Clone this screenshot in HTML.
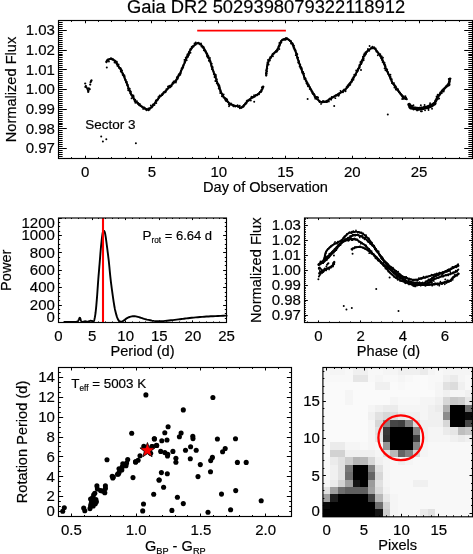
<!DOCTYPE html>
<html><head><meta charset="utf-8"><style>
html,body{margin:0;padding:0;background:#fff;}
body{width:473px;height:554px;overflow:hidden;}
svg{display:block;font-family:"Liberation Sans",sans-serif;will-change:transform;}
text{stroke:#000;stroke-width:0.18px;}
</style></head><body>
<svg width="473" height="554" viewBox="0 0 473 554" font-family="Liberation Sans, sans-serif">
<rect width="473" height="554" fill="#fff"/>
<text x="127.0" y="13.4" font-size="18.35">Gaia DR2 5029398079322118912</text>
<path d="M106.5 62.3 L107 60.6 L108.8 59.4 L111.2 58.5 L113.5 59.6 L115.8 62.3 L118.2 65.8 L120.5 69.4 L122.9 74.1 L125.2 79.3 L127 84 L128.8 88.7 L131.1 94 L134 99.3 L137.6 103.4 L141.1 106.1 L145.2 108.7 L147.9 109.5 L151.5 107.2 L155.1 102.9 L159.4 97.1 L163.8 92.8 L168.8 87.7 L173.9 82.7 L177.5 78.3 L180.4 72.5 L183.3 66 L186.2 58.8 L189 52.3 L192.9 46.6 L195.8 43.7 L197.9 42.9 L200.8 44.4 L203.7 48 L206.6 53.8 L209.5 59.5 L211.7 66 L213.8 72.5 L216 79 L218.2 84.8 L220.3 90.6 L223.2 96.4 L226.8 100.7 L230.4 104.3 L234.8 105.8 L238.1 106.3 L241.1 107.9 L244.2 105.2 L247.3 101.3 L251.1 98.3 L254.9 96 L258.8 93.7 L261.4 90.6 L263.4 86.7" fill="none" stroke="#000" stroke-width="2.0" stroke-linejoin="round" stroke-linecap="round"/>
<path d="M106.94 61.05h0M106.26 61.48h0M107.05 60.21h0M107.85 59.38h0M108.69 59.81h0M108.94 61.55h0M109.7 59.14h0M110.81 58.47h0M111.1 58.6h0M111.48 59.27h0M112.77 59.86h0M113.48 59.78h0M113.35 59.69h0M115.31 60.6h0M114.52 62.47h0M115.77 61.39h0M115.62 61.63h0M116.84 61.71h0M116.5 63.34h0M117.14 63.16h0M116.73 64.21h0M117.46 65.9h0M118.3 64.73h0M118.47 66.41h0M118.6 64.54h0M119.13 67.94h0M120.5 68.03h0M120.33 68.3h0M121.06 69.05h0M120.77 71.2h0M121.97 70.8h0M122.09 70.44h0M121.3 71.95h0M123.07 73.39h0M122.72 74.44h0M122.64 74.75h0M122.75 73.88h0M123.8 75.51h0M122.99 75.15h0M124.29 75.11h0M124.7 76.22h0M124.7 78.02h0M124.91 79.08h0M125.1 79.58h0M125.19 79.88h0M125.6 79.68h0M125.87 81.35h0M125.97 82.26h0M126.92 82.02h0M126.09 82.31h0M127.25 84.06h0M127.63 85.86h0M127.21 85.17h0M127.93 84.98h0M127.76 85.96h0M128.01 88.5h0M128.19 90.28h0M128.49 90.37h0M129.78 88.81h0M129.37 90.14h0M130.47 91.08h0M129.7 91.11h0M130.93 91.78h0M130.23 93.25h0M130.59 92.49h0M131.63 94.81h0M131.06 94.66h0M131.89 95.22h0M131.56 98.33h0M132.38 97.18h0M133.46 95.53h0M133.78 97.05h0M133.97 98.58h0M134.24 99.58h0M134.69 101.36h0M135.26 99.75h0M135.31 102.81h0M136.96 101.11h0M136.37 102.1h0M137.89 103.62h0M137.79 102.68h0M138.27 102.99h0M138.8 104.67h0M139.8 104.01h0M139.58 105.39h0M140.55 105.52h0M141.29 106.34h0M142.11 106.7h0M142.27 107.18h0M143.19 108.88h0M144.2 107.37h0M144.83 107.86h0M145 108.76h0M145.94 108.93h0M146.38 110.26h0M147.16 109.6h0M149.07 109.05h0M148.64 110.34h0M148.44 108.37h0M149.67 109.47h0M150.3 108.34h0M151.39 107.48h0M150.84 105.52h0M151.81 107.41h0M152.95 104.56h0M152.56 106.56h0M153.02 104.67h0M153.76 104.86h0M154.36 104.13h0M154.45 104.98h0M155.27 102.5h0M155.58 101.97h0M156.32 103.12h0M156.56 100.45h0M155.81 100.4h0M157.45 99.69h0M158.06 99.58h0M158.44 96.99h0M158.52 96.88h0M158.73 97.9h0M159.23 96.5h0M160.75 96.19h0M159.65 95.57h0M160.73 95.99h0M162.24 95.15h0M162 94.27h0M162.85 94.23h0M163.47 92.54h0M163.55 92.37h0M163.78 92.1h0M164.17 92.3h0M165.34 92.32h0M165.87 91.68h0M167.14 89.14h0M166.71 89.51h0M166.38 89.09h0M167.89 86.87h0M167.99 86.57h0M168.58 86.3h0M169.9 85.69h0M169.57 86.46h0M170.45 87.34h0M171.48 86.14h0M171.04 86.08h0M171.84 84.44h0M172.6 83.02h0M173.85 82.51h0M173.53 81.49h0M173.75 81.77h0M174.78 81.99h0M174.55 81.82h0M175.94 82.45h0M176.15 81.33h0M176.43 80.46h0M176.6 79.32h0M176.96 78.92h0M176.83 77.25h0M177.7 78.75h0M177.85 76.66h0M178.68 74.78h0M178.29 75.43h0M179.18 73.92h0M179.39 74.85h0M180.31 74.8h0M180.82 72.81h0M180.75 73.3h0M180.49 72.84h0M180.96 71.19h0M180.91 70.79h0M181.7 68.56h0M181.59 68.55h0M182.5 68.62h0M183.05 66.8h0M183.22 67.22h0M182.38 67.45h0M183.21 66.52h0M183.15 65.18h0M183.46 65.3h0M184.47 63.12h0M184.95 62.49h0M184.6 61.44h0M184.57 61.4h0M184.44 59.84h0M185.85 59.5h0M185.34 59.6h0M185.7 57.69h0M186.69 60.19h0M186.35 58.21h0M186.74 56.56h0M186.99 56.7h0M187.97 55.74h0M187.37 54.41h0M188.13 56.71h0M188.92 55.02h0M188.08 54.39h0M189.04 54.09h0M189.14 51.65h0M189.5 52.81h0M190.09 49.28h0M190.5 52.68h0M190.8 49.58h0M190.88 48.59h0M191.66 46.93h0M191.84 47.48h0M191.53 47.92h0M192.62 46.17h0M193.64 46.4h0M193.58 46.59h0M194.5 43.46h0M195.58 44.84h0M196.03 44.04h0M195.73 42.35h0M197.89 43.47h0M198.5 42.62h0M198.74 42.89h0M199.73 44.16h0M199.88 44.4h0M201.01 43.49h0M201.45 46.39h0M200.95 44.51h0M203.02 46.66h0M202.55 47.6h0M203.61 46.96h0M203.71 47.48h0M204.27 48.69h0M204.76 49.6h0M203.83 50.33h0M205.14 50.65h0M205.66 51.41h0M205.72 51.98h0M205.93 51.14h0M206.05 52.39h0M207.23 53.56h0M207.9 55.21h0M206.88 56.06h0M207.41 55.66h0M207.63 56.65h0M207.62 57.58h0M208.5 56.16h0M208.84 60.7h0M209.95 58h0M209.69 59.63h0M209.32 60.39h0M210.53 61.22h0M210.55 62.32h0M210.55 62.25h0M211.4 63.98h0M211.4 64.02h0M211.12 64.99h0M211.77 63.62h0M211.4 66.31h0M211.74 67.44h0M212.74 67.12h0M212.12 67.36h0M212.47 67.21h0M211.93 69.19h0M213.03 70.84h0M213.13 71h0M213.45 71.66h0M213.57 71.87h0M213.8 73.86h0M213.74 73.94h0M214.88 74.26h0M215.92 76.44h0M215.9 75.04h0M215.68 74.95h0M215.59 77.1h0M214.5 76.99h0M215.78 77.57h0M216.88 79.27h0M215.32 81h0M216.95 81.62h0M216.19 81.15h0M216.76 83.39h0M218.11 84.01h0M218.2 84.51h0M218.02 84.74h0M218.84 84.48h0M218.79 86.11h0M219.4 85.82h0M219.72 86.93h0M219.88 87.83h0M218.73 88.55h0M219.91 88.24h0M220.29 91.2h0M220.69 90.17h0M220.18 92.95h0M221.16 92.4h0M221.31 93.33h0M221.89 93.73h0M221.93 96.24h0M223.11 94.91h0M222.36 95.41h0M223.67 94.38h0M223.39 96.37h0M223.5 97.43h0M224.82 97.93h0M225.73 98.5h0M225.14 99.76h0M226.43 98.81h0M227.13 99.37h0M226.02 101.06h0M227.31 100.18h0M227.61 101.85h0M228.27 102.33h0M228.8 104.53h0M229.01 106.33h0M229.15 103.66h0M229.69 104.93h0M231.02 103.53h0M231.83 104.41h0M232.92 104.91h0M233.32 106.33h0M233.49 106.4h0M235.32 106.46h0M235.1 105.58h0M237.57 105.26h0M236.83 105.87h0M238.36 106.78h0M238.06 106.9h0M239.75 105.78h0M239.84 108.35h0M240.12 107.8h0M241.85 107.02h0M242.59 106.48h0M242.14 107.22h0M243.45 106.76h0M243.9 105.03h0M244.37 105.53h0M245.74 103.99h0M245.88 103.39h0M245.26 103.53h0M246.46 103.13h0M246.66 102.11h0M246.74 100.85h0M247.33 100.55h0M248.25 100.68h0M249.17 100.42h0M249.43 99.45h0M250.85 100.48h0M250.95 98.23h0M251.5 96.71h0M252.67 97.04h0M252.89 97.56h0M253.63 97.15h0M254.1 95.28h0M254.94 96.59h0M255.9 94.99h0M256.58 95.33h0M257.13 95.18h0M257.91 94.39h0M258.05 94.06h0M259.02 94.23h0M259.27 92.84h0M259.81 92.05h0M260.34 92.13h0M261.17 91.92h0M261.18 90.09h0M261.65 91.02h0M262.46 89.03h0M261.85 87.31h0M263.05 87.33h0M262.67 86.59h0M262.96 86.5h0" stroke="#000" stroke-width="1.9" stroke-linecap="round" fill="none"/>
<path d="M266.2 75.5 L266.6 70 L267.3 65.5 L268.5 61.6 L270 58.6 L271.6 56.2 L273.2 54.2 L275 52.4 L276.6 50.6 L278 48.2 L279.4 45 L280.6 42 L282 40 L283.8 39.1 L286.5 38.7 L288.6 39.4 L290.4 41 L292.3 44 L294 47.5 L295.5 51.2 L297.6 58.2 L299.9 65.2 L302.2 71.4 L304.5 77.5 L307.6 83.7 L310.7 89 L313.7 94.4 L316.8 99 L320.6 101.8 L324.5 102.1 L329.6 99.4 L334.2 96.3 L339.6 93.3 L344.9 90.2 L348.8 85.6 L352.6 79.5 L355.7 74.1 L358.7 68 L361.8 61.1 L364.9 54.2 L367.9 50.5 L371.6 48.2 L374.3 47.9 L377.3 51.6 L380.9 56.6 L383.8 63.1 L386.7 70.3 L389.5 76.1 L392.4 82.6 L396 87.7 L399.7 92.7 L403.3 97.8 L406.9 99.2" fill="none" stroke="#000" stroke-width="2.0" stroke-linejoin="round" stroke-linecap="round"/>
<path d="M266.35 75.4h0M266.63 73.45h0M266.09 75.08h0M266.14 72.88h0M265.86 73.25h0M267.02 71.22h0M266.53 71.03h0M266.22 70.17h0M267.14 68.56h0M266.84 68.7h0M267.3 68.56h0M266.94 66.49h0M267.4 64.85h0M267.36 63.92h0M268.68 64.45h0M267.8 62.51h0M267.51 62.96h0M267.41 62.37h0M269.22 60.3h0M267.95 60.01h0M268.93 60.15h0M269.54 58.83h0M269.89 60.57h0M271.08 57.63h0M270.15 57.25h0M271.08 57.37h0M272.18 55.69h0M272.44 54.22h0M272.93 56.25h0M272.99 53.61h0M273.95 53.3h0M274.6 52.46h0M275.35 51.76h0M275.95 51.97h0M275.98 50.87h0M277.32 50.83h0M277.04 51.45h0M277.81 50.26h0M279.32 48.93h0M278.75 47.59h0M278.69 46.16h0M279.53 45.99h0M279.34 43.06h0M280.16 43.18h0M280.1 44.81h0M280.69 43.34h0M281.02 42.86h0M280.82 41.29h0M281.5 41.89h0M282.57 40.13h0M283.01 39.63h0M284.33 39.82h0M285.74 38.75h0M285.65 39.8h0M285.97 38.02h0M287.11 38.26h0M287.86 39.15h0M288.42 39.64h0M289.21 40.35h0M289.84 41.09h0M290.02 41.17h0M291.01 43.51h0M291.1 41.25h0M291.41 42.66h0M291.64 43.31h0M292.44 43.19h0M293.18 44.11h0M293.41 45.31h0M293.24 45.72h0M294.02 45.67h0M293.56 47.78h0M294.46 49.4h0M294.51 49.83h0M295.57 50.42h0M294.8 50.07h0M295.51 50.3h0M295.84 52.16h0M295.2 50.83h0M296.78 53.5h0M296.25 52.96h0M295.77 55.13h0M296.25 55.23h0M297.32 54.13h0M297.09 57.43h0M297.36 58.45h0M298.12 57.61h0M298.18 59.38h0M298.34 60.34h0M299.11 61.29h0M298.38 60.62h0M298.83 63.03h0M298.47 62.81h0M298.14 62.54h0M299.89 64.42h0M299.63 66.41h0M299.77 64.32h0M300.28 64.74h0M300.31 66.66h0M300.88 66.88h0M300.47 68.06h0M301.83 68.1h0M301.83 69.14h0M301.27 68.74h0M302.04 71.95h0M301.58 69.25h0M302.96 72.15h0M303.2 71.88h0M304.04 73.67h0M302.46 72.9h0M304.15 75.77h0M303.97 76.88h0M304.28 77.66h0M303.88 76.2h0M304.04 77.09h0M305.02 78.12h0M304.34 79.03h0M305.55 78.53h0M305.7 80.87h0M306.4 81.01h0M306.91 82.96h0M306.35 83.08h0M307.41 82.65h0M307.23 84.38h0M308.56 84.44h0M308 85.86h0M307.91 86.33h0M308.84 85.52h0M309.69 86.83h0M309.71 88.9h0M310.06 87.6h0M311.23 89.7h0M310.21 89.34h0M311.18 89.79h0M311.51 91.2h0M312.41 91.58h0M312.26 92.96h0M313.39 93.52h0M312.98 93.99h0M314.13 93.94h0M314.5 94.71h0M314.61 96.3h0M314.73 96.97h0M315.56 98.66h0M315.24 98.67h0M317.1 96.92h0M316.4 96.96h0M317.44 97.65h0M318.09 97.43h0M318.22 99.47h0M319.11 101.21h0M319.66 102.15h0M321.05 103.91h0M321.79 102.01h0M322.97 101h0M322.42 102.42h0M323.94 101.27h0M324.33 101.71h0M325.32 101.58h0M325.87 102.08h0M326.41 101.91h0M327.09 101.98h0M327.15 101.52h0M328.87 101.46h0M329.01 99.26h0M329.83 98.72h0M329.91 98.38h0M330.52 99.15h0M331.22 99.64h0M331.75 97.04h0M333.75 97.07h0M333.08 97.32h0M335.34 98.15h0M335.5 95.4h0M335.89 95.91h0M336.44 95.2h0M337.02 95.25h0M338.58 95.74h0M339.17 94.64h0M338.35 93.81h0M339.44 93.3h0M340.99 92.09h0M340.54 90.85h0M341.35 92.16h0M342.49 92.14h0M343.01 92.22h0M344.19 89.46h0M343.23 90.5h0M345.55 91.22h0M345.5 90.47h0M345.44 89.45h0M346.61 86.9h0M346.49 88.03h0M347.66 87.27h0M347.62 85.5h0M348.03 85.98h0M348.23 84.98h0M349.15 83.59h0M350.3 84.84h0M350.25 82.73h0M350.39 83.57h0M350.42 82.39h0M352.03 81.67h0M351.38 81.92h0M351.73 80.03h0M351.8 79.72h0M352.51 78.52h0M353.49 79.8h0M353.64 77.82h0M353.33 77.26h0M354.42 76.52h0M354.26 74.64h0M354.53 75.68h0M355.3 75.36h0M355.88 75.05h0M355.93 73.93h0M356.57 72.25h0M356.19 70.5h0M356.92 71.96h0M357.34 70.85h0M357.83 70.77h0M358.01 70.8h0M357.93 69.02h0M359.29 68.14h0M359.37 68.31h0M359.87 67.1h0M359.31 65.1h0M360.16 64.98h0M361.25 64.1h0M360.3 62.1h0M360.71 62.12h0M361.22 62.79h0M361.89 62.75h0M360.7 62.03h0M361.68 60.55h0M362.51 60.82h0M363.65 60.2h0M363.71 58.81h0M363.14 57.61h0M362.88 56.76h0M363.76 54.86h0M364.79 55.74h0M364.84 55.51h0M364.42 53.34h0M365.86 54.27h0M365.67 52.12h0M366.15 53.58h0M367.3 51.44h0M367.94 50.54h0M367.99 49.66h0M367.98 48.89h0M367.96 49.6h0M369.29 50.8h0M369.57 45.97h0M371.1 48.31h0M371.23 47.59h0M372.57 47.58h0M372.42 46.71h0M374.13 47.23h0M375.13 48.69h0M375.66 48.57h0M376.27 50.53h0M376.33 50.95h0M376.36 51.58h0M377.21 51.36h0M377.3 52.07h0M378.53 53.53h0M377.8 55.22h0M378.62 54h0M380.32 54.24h0M380.32 56.38h0M380.39 56.13h0M381.53 56.42h0M381.19 58.22h0M381.16 58.23h0M381.77 56.33h0M381.98 59.05h0M383 57.81h0M382.02 59.92h0M382.83 60.32h0M382.58 62.12h0M383.02 62.23h0M383.81 62.16h0M384.66 62.86h0M384.54 64.29h0M384.24 64.37h0M385.29 65.54h0M385.19 64.99h0M385.51 66.23h0M385.31 66.56h0M384.57 68.36h0M385.35 70.08h0M385.9 70.38h0M387.23 69.49h0M386.91 71.1h0M388.13 73h0M387.06 71.34h0M388.14 72.19h0M387.89 72.99h0M388.38 74.3h0M389.39 75.01h0M389.57 75.71h0M390.46 74.67h0M389.41 75.85h0M389.87 77.05h0M390.65 77.03h0M390.3 78.86h0M390.65 79.05h0M391.52 79.93h0M391.8 79.32h0M391.54 80.96h0M391.65 81.39h0M391.98 83.17h0M392.98 83.78h0M394.07 83.09h0M393.81 84.05h0M394.19 85.1h0M394.7 85.2h0M394.42 87.47h0M395.83 86.53h0M395.77 87.78h0M396.83 89.78h0M395.83 89.6h0M397.7 90.4h0M398.05 89.17h0M398.29 91.03h0M398.9 92.35h0M398.81 91.55h0M400.1 92.9h0M400.33 93.87h0M400.06 92.76h0M401.2 94.19h0M401.72 95.33h0M402.03 94.83h0M403.5 96.18h0M402.18 98.98h0M403.49 98.88h0M404.66 98.22h0M405.22 97.21h0M405.36 96.11h0M405.81 99.01h0M406.09 97.57h0" stroke="#000" stroke-width="1.9" stroke-linecap="round" fill="none"/>
<path d="M409.2 104.6 L410.8 107.8 L414.5 108.3 L418.7 108.9 L423 108.3 L427.2 107.3 L431.4 105.7 L434.6 103.6" fill="none" stroke="#000" stroke-width="3.6" stroke-linejoin="round" stroke-linecap="round"/>
<path d="M408.51 104.2h0M409.33 104.85h0M410.14 104.89h0M411.01 106.47h0M409.42 107.48h0M409.8 105.54h0M411.48 105.67h0M412.33 106h0M414.49 108.68h0M413.46 105.18h0M415.16 107.58h0M413.55 109.6h0M416.23 108.97h0M417.38 108.25h0M417.02 110.39h0M417.41 110.4h0M419.64 107.61h0M420.84 105.19h0M420.91 111.24h0M421.65 107.5h0M421.91 111.25h0M422.22 108.93h0M423.32 108.26h0M423.34 108.59h0M424.58 104.94h0M424.93 107.5h0M425.05 110.34h0M423.8 107.28h0M428.1 108.24h0M428.15 108.49h0M428.72 107.13h0M428.56 109.99h0M429.4 107.39h0M430.08 104.38h0M430.1 103.26h0M430.95 106.28h0M432.03 108.79h0M433.21 104.37h0M433.83 103.87h0M434.42 103.21h0" stroke="#000" stroke-width="1.9" stroke-linecap="round" fill="none"/>
<path d="M434.6 103.6 L436.7 98.8 L438.8 95.7 L441.5 92 L444.1 88.8 L446.8 86.1 L448.9 83.5 L449.9 78.7" fill="none" stroke="#000" stroke-width="2.4" stroke-linejoin="round" stroke-linecap="round"/>
<path d="M435.08 104.33h0M435.46 103.41h0M435.52 100.29h0M435.03 101.32h0M436.13 101.37h0M436.62 98.26h0M436.58 100.45h0M436.57 96.46h0M437.82 99.03h0M437.16 97.53h0M439.15 98.43h0M437.9 96.02h0M437.68 94.61h0M438.63 95.02h0M439.38 94.77h0M440.22 93.52h0M440.26 92.54h0M440.51 92.81h0M441.71 93.17h0M441.7 90.65h0M442.53 89.66h0M443.29 89.77h0M443.72 91.46h0M444.14 89.87h0M444.47 88.35h0M446.36 85.9h0M445.83 87.12h0M447.27 86.2h0M447.58 85.52h0M447.22 86.2h0M448.24 85.69h0M448.33 84.29h0M449.41 85.34h0M448.97 83.34h0M448.82 82.51h0M449.67 81.69h0M449.57 81.04h0M449.63 84.24h0M448.74 79.01h0M450.58 78.59h0" stroke="#000" stroke-width="1.9" stroke-linecap="round" fill="none"/>
<circle cx="91.5" cy="80.4" r="1.1" fill="#000"/>
<circle cx="91.1" cy="81" r="1.1" fill="#000"/>
<circle cx="90.6" cy="82.2" r="1.1" fill="#000"/>
<circle cx="90.2" cy="84.6" r="1.1" fill="#000"/>
<circle cx="85.2" cy="83.5" r="1.1" fill="#000"/>
<circle cx="85.9" cy="86" r="1.1" fill="#000"/>
<circle cx="85.4" cy="86.9" r="1.1" fill="#000"/>
<circle cx="88.8" cy="88.3" r="1.1" fill="#000"/>
<circle cx="87.9" cy="90.1" r="1.1" fill="#000"/>
<circle cx="88.2" cy="91.9" r="1.1" fill="#000"/>
<circle cx="89.7" cy="89.2" r="1.1" fill="#000"/>
<circle cx="86.6" cy="87.5" r="1.1" fill="#000"/>
<circle cx="87.3" cy="88.8" r="1.1" fill="#000"/>
<circle cx="88.5" cy="90.8" r="1.1" fill="#000"/>
<circle cx="106.8" cy="67.6" r="1.0" fill="#000"/>
<circle cx="101.2" cy="136.6" r="1.0" fill="#000"/>
<circle cx="102.9" cy="141.4" r="1.0" fill="#000"/>
<circle cx="106.3" cy="139.2" r="1.0" fill="#000"/>
<circle cx="135.9" cy="143.3" r="1.0" fill="#000"/>
<circle cx="254.2" cy="101.8" r="1.0" fill="#000"/>
<circle cx="307.6" cy="99" r="1.0" fill="#000"/>
<circle cx="334.2" cy="105.9" r="1.0" fill="#000"/>
<circle cx="361" cy="70" r="1.0" fill="#000"/>
<circle cx="387.8" cy="114.4" r="1.0" fill="#000"/>
<path d="M197.2 30.6H285.9" stroke="#f00" stroke-width="1.6"/>
<path d="M58.5 158.5v-1.38M58.5 20.5v1.38M71.5 158.5v-1.38M71.5 20.5v1.38M85.5 158.5v-2.76M85.5 20.5v2.76M98.5 158.5v-1.38M98.5 20.5v1.38M111.5 158.5v-1.38M111.5 20.5v1.38M125.5 158.5v-1.38M125.5 20.5v1.38M138.5 158.5v-1.38M138.5 20.5v1.38M151.5 158.5v-2.76M151.5 20.5v2.76M165.5 158.5v-1.38M165.5 20.5v1.38M178.5 158.5v-1.38M178.5 20.5v1.38M192.5 158.5v-1.38M192.5 20.5v1.38M205.5 158.5v-1.38M205.5 20.5v1.38M218.5 158.5v-2.76M218.5 20.5v2.76M232.5 158.5v-1.38M232.5 20.5v1.38M245.5 158.5v-1.38M245.5 20.5v1.38M258.5 158.5v-1.38M258.5 20.5v1.38M272.5 158.5v-1.38M272.5 20.5v1.38M285.5 158.5v-2.76M285.5 20.5v2.76M298.5 158.5v-1.38M298.5 20.5v1.38M312.5 158.5v-1.38M312.5 20.5v1.38M325.5 158.5v-1.38M325.5 20.5v1.38M338.5 158.5v-1.38M338.5 20.5v1.38M352.5 158.5v-2.76M352.5 20.5v2.76M365.5 158.5v-1.38M365.5 20.5v1.38M379.5 158.5v-1.38M379.5 20.5v1.38M392.5 158.5v-1.38M392.5 20.5v1.38M405.5 158.5v-1.38M405.5 20.5v1.38M419.5 158.5v-2.76M419.5 20.5v2.76M432.5 158.5v-1.38M432.5 20.5v1.38M445.5 158.5v-1.38M445.5 20.5v1.38M459.5 158.5v-1.38M459.5 20.5v1.38M472.5 158.5v-1.38M472.5 20.5v1.38M58.5 158.5h4.14M472.5 158.5h-4.14M58.5 156.5h4.14M472.5 156.5h-4.14M58.5 154.5h4.14M472.5 154.5h-4.14M58.5 152.5h4.14M472.5 152.5h-4.14M58.5 150.5h4.14M472.5 150.5h-4.14M58.5 148.5h8.28M472.5 148.5h-8.28M58.5 146.5h4.14M472.5 146.5h-4.14M58.5 144.5h4.14M472.5 144.5h-4.14M58.5 142.5h4.14M472.5 142.5h-4.14M58.5 140.5h4.14M472.5 140.5h-4.14M58.5 138.5h4.14M472.5 138.5h-4.14M58.5 136.5h4.14M472.5 136.5h-4.14M58.5 134.5h4.14M472.5 134.5h-4.14M58.5 132.5h4.14M472.5 132.5h-4.14M58.5 130.5h4.14M472.5 130.5h-4.14M58.5 128.5h8.28M472.5 128.5h-8.28M58.5 126.5h4.14M472.5 126.5h-4.14M58.5 124.5h4.14M472.5 124.5h-4.14M58.5 123.5h4.14M472.5 123.5h-4.14M58.5 121.5h4.14M472.5 121.5h-4.14M58.5 119.5h4.14M472.5 119.5h-4.14M58.5 117.5h4.14M472.5 117.5h-4.14M58.5 115.5h4.14M472.5 115.5h-4.14M58.5 113.5h4.14M472.5 113.5h-4.14M58.5 111.5h4.14M472.5 111.5h-4.14M58.5 109.5h8.28M472.5 109.5h-8.28M58.5 107.5h4.14M472.5 107.5h-4.14M58.5 105.5h4.14M472.5 105.5h-4.14M58.5 103.5h4.14M472.5 103.5h-4.14M58.5 101.5h4.14M472.5 101.5h-4.14M58.5 99.5h4.14M472.5 99.5h-4.14M58.5 97.5h4.14M472.5 97.5h-4.14M58.5 95.5h4.14M472.5 95.5h-4.14M58.5 93.5h4.14M472.5 93.5h-4.14M58.5 91.5h4.14M472.5 91.5h-4.14M58.5 89.5h8.28M472.5 89.5h-8.28M58.5 87.5h4.14M472.5 87.5h-4.14M58.5 85.5h4.14M472.5 85.5h-4.14M58.5 83.5h4.14M472.5 83.5h-4.14M58.5 81.5h4.14M472.5 81.5h-4.14M58.5 79.5h4.14M472.5 79.5h-4.14M58.5 77.5h4.14M472.5 77.5h-4.14M58.5 75.5h4.14M472.5 75.5h-4.14M58.5 73.5h4.14M472.5 73.5h-4.14M58.5 71.5h4.14M472.5 71.5h-4.14M58.5 69.5h8.28M472.5 69.5h-8.28M58.5 67.5h4.14M472.5 67.5h-4.14M58.5 65.5h4.14M472.5 65.5h-4.14M58.5 63.5h4.14M472.5 63.5h-4.14M58.5 61.5h4.14M472.5 61.5h-4.14M58.5 59.5h4.14M472.5 59.5h-4.14M58.5 57.5h4.14M472.5 57.5h-4.14M58.5 55.5h4.14M472.5 55.5h-4.14M58.5 54.5h4.14M472.5 54.5h-4.14M58.5 52.5h4.14M472.5 52.5h-4.14M58.5 50.5h8.28M472.5 50.5h-8.28M58.5 48.5h4.14M472.5 48.5h-4.14M58.5 46.5h4.14M472.5 46.5h-4.14M58.5 44.5h4.14M472.5 44.5h-4.14M58.5 42.5h4.14M472.5 42.5h-4.14M58.5 40.5h4.14M472.5 40.5h-4.14M58.5 38.5h4.14M472.5 38.5h-4.14M58.5 36.5h4.14M472.5 36.5h-4.14M58.5 34.5h4.14M472.5 34.5h-4.14M58.5 32.5h4.14M472.5 32.5h-4.14M58.5 30.5h8.28M472.5 30.5h-8.28M58.5 28.5h4.14M472.5 28.5h-4.14M58.5 26.5h4.14M472.5 26.5h-4.14M58.5 24.5h4.14M472.5 24.5h-4.14M58.5 22.5h4.14M472.5 22.5h-4.14M58.5 20.5h4.14M472.5 20.5h-4.14" stroke="#000" stroke-width="1.0" fill="none"/>
<rect x="58.5" y="20.5" width="414" height="138" stroke="#000" stroke-width="1.15" fill="none"/>
<text x="85.21" y="176.7" font-size="15.0" text-anchor="middle">0</text>
<text x="151.98" y="176.7" font-size="15.0" text-anchor="middle">5</text>
<text x="218.76" y="176.7" font-size="15.0" text-anchor="middle">10</text>
<text x="285.53" y="176.7" font-size="15.0" text-anchor="middle">15</text>
<text x="352.31" y="176.7" font-size="15.0" text-anchor="middle">20</text>
<text x="419.08" y="176.7" font-size="15.0" text-anchor="middle">25</text>
<text x="54.9" y="153.45" font-size="15.0" text-anchor="end">0.97</text>
<text x="54.9" y="133.74" font-size="15.0" text-anchor="end">0.98</text>
<text x="54.9" y="114.02" font-size="15.0" text-anchor="end">0.99</text>
<text x="54.9" y="94.31" font-size="15.0" text-anchor="end">1.00</text>
<text x="54.9" y="74.6" font-size="15.0" text-anchor="end">1.01</text>
<text x="54.9" y="54.88" font-size="15.0" text-anchor="end">1.02</text>
<text x="54.9" y="35.17" font-size="15.0" text-anchor="end">1.03</text>
<text x="265.5" y="191.7" font-size="14.6" text-anchor="middle">Day of Observation</text>
<text transform="translate(15.7 89.5) rotate(-90)" x="0" y="0" font-size="14.6" text-anchor="middle">Normalized Flux</text>
<text x="85.2" y="128.6" font-size="13.5">Sector 3</text>
<path d="M64.3 321.9 L64.92 321.9 L65.77 321.9 L66.77 321.9 L67.87 321.9 L68.97 321.9 L70 321.9 L71.03 321.92 L72.11 321.95 L73.21 321.98 L74.26 322 L75.21 321.98 L76 321.9 L76.61 321.78 L77.07 321.62 L77.43 321.43 L77.73 321.2 L78.01 320.92 L78.3 320.6 L78.6 320.14 L78.87 319.54 L79.12 318.89 L79.35 318.3 L79.58 317.87 L79.8 317.7 L80.02 317.87 L80.23 318.3 L80.42 318.89 L80.62 319.54 L80.81 320.14 L81 320.6 L81.17 320.93 L81.3 321.22 L81.44 321.47 L81.6 321.67 L81.81 321.81 L82.1 321.9 L82.5 321.9 L82.98 321.8 L83.52 321.66 L84.07 321.5 L84.61 321.36 L85.1 321.3 L85.53 321.32 L85.92 321.41 L86.29 321.52 L86.67 321.63 L87.07 321.7 L87.5 321.7 L87.98 321.61 L88.5 321.44 L89.04 321.24 L89.59 321.04 L90.11 320.88 L90.6 320.8 L91.07 320.82 L91.53 320.92 L91.97 321.06 L92.39 321.2 L92.77 321.29 L93.1 321.3 L93.36 321.29 L93.56 321.3 L93.72 321.26 L93.86 321.11 L94.02 320.78 L94.2 320.2 L94.42 319.39 L94.64 318.4 L94.88 317.23 L95.12 315.87 L95.36 314.29 L95.6 312.5 L95.83 310.43 L96.07 308.1 L96.31 305.55 L96.54 302.86 L96.77 300.09 L97 297.3 L97.22 294.45 L97.43 291.48 L97.64 288.43 L97.86 285.33 L98.07 282.24 L98.3 279.2 L98.54 276.15 L98.8 273.06 L99.06 269.97 L99.31 266.94 L99.57 264 L99.8 261.2 L100.01 258.56 L100.21 256.04 L100.4 253.62 L100.59 251.27 L100.79 248.97 L101 246.7 L101.24 244.37 L101.49 241.98 L101.75 239.64 L102.01 237.46 L102.26 235.55 L102.5 234 L102.71 232.84 L102.91 231.99 L103.1 231.41 L103.29 231.04 L103.49 230.85 L103.7 230.8 L103.93 230.85 L104.17 231.04 L104.41 231.41 L104.67 231.99 L104.93 232.84 L105.2 234 L105.48 235.55 L105.78 237.46 L106.08 239.64 L106.39 241.98 L106.7 244.37 L107 246.7 L107.3 248.97 L107.6 251.27 L107.9 253.62 L108.2 256.04 L108.5 258.56 L108.8 261.2 L109.09 264 L109.38 266.94 L109.66 269.98 L109.96 273.06 L110.27 276.15 L110.6 279.2 L110.97 282.27 L111.37 285.43 L111.78 288.58 L112.2 291.66 L112.61 294.59 L113 297.3 L113.36 299.77 L113.7 302.07 L114.03 304.22 L114.37 306.24 L114.72 308.16 L115.1 310 L115.52 311.79 L115.96 313.51 L116.41 315.13 L116.88 316.61 L117.34 317.91 L117.8 319 L118.25 319.84 L118.7 320.47 L119.14 320.91 L119.59 321.22 L120.04 321.44 L120.5 321.6 L120.94 321.69 L121.36 321.67 L121.77 321.56 L122.22 321.37 L122.72 321.11 L123.3 320.8 L123.96 320.38 L124.69 319.84 L125.46 319.24 L126.28 318.62 L127.13 318.06 L128 317.6 L128.9 317.23 L129.84 316.9 L130.81 316.62 L131.8 316.4 L132.8 316.26 L133.8 316.2 L134.8 316.25 L135.81 316.4 L136.83 316.63 L137.86 316.91 L138.92 317.21 L140 317.5 L141.08 317.81 L142.14 318.16 L143.23 318.53 L144.38 318.9 L145.62 319.26 L147 319.6 L148.54 319.94 L150.2 320.29 L151.97 320.63 L153.8 320.93 L155.65 321.17 L157.5 321.3 L159.36 321.32 L161.28 321.24 L163.22 321.09 L165.17 320.9 L167.1 320.69 L169 320.5 L170.9 320.31 L172.81 320.09 L174.72 319.86 L176.57 319.63 L178.35 319.41 L180 319.2 L181.46 319.02 L182.74 318.85 L183.94 318.69 L185.15 318.54 L186.47 318.37 L188 318.2 L189.76 318.01 L191.67 317.8 L193.69 317.59 L195.78 317.38 L197.9 317.18 L200 317 L202.1 316.84 L204.24 316.7 L206.4 316.56 L208.59 316.44 L210.79 316.32 L213 316.2 L215.39 316.08 L217.99 315.96 L220.61 315.85 L223.05 315.75 L225.11 315.66 L226.6 315.6" fill="none" stroke="#000" stroke-width="1.9" stroke-linejoin="round" stroke-linecap="round"/>
<path d="M103 218V322.5" stroke="#f00" stroke-width="2.1"/>
<path d="M58.5 322.5v-2.09M58.5 218v2.09M65.5 322.5v-1.04M65.5 218v1.04M71.5 322.5v-1.04M71.5 218v1.04M78.5 322.5v-1.04M78.5 218v1.04M85.5 322.5v-1.04M85.5 218v1.04M92.5 322.5v-2.09M92.5 218v2.09M98.5 322.5v-1.04M98.5 218v1.04M105.5 322.5v-1.04M105.5 218v1.04M112.5 322.5v-1.04M112.5 218v1.04M118.5 322.5v-1.04M118.5 218v1.04M125.5 322.5v-2.09M125.5 218v2.09M132.5 322.5v-1.04M132.5 218v1.04M139.5 322.5v-1.04M139.5 218v1.04M145.5 322.5v-1.04M145.5 218v1.04M152.5 322.5v-1.04M152.5 218v1.04M159.5 322.5v-2.09M159.5 218v2.09M166.5 322.5v-1.04M166.5 218v1.04M172.5 322.5v-1.04M172.5 218v1.04M179.5 322.5v-1.04M179.5 218v1.04M186.5 322.5v-1.04M186.5 218v1.04M192.5 322.5v-2.09M192.5 218v2.09M199.5 322.5v-1.04M199.5 218v1.04M206.5 322.5v-1.04M206.5 218v1.04M213.5 322.5v-1.04M213.5 218v1.04M219.5 322.5v-1.04M219.5 218v1.04M226.5 322.5v-2.09M226.5 218v2.09M58.5 322.5h3.36M226.5 322.5h-3.36M58.5 318.5h1.68M226.5 318.5h-1.68M58.5 313.5h1.68M226.5 313.5h-1.68M58.5 309.5h1.68M226.5 309.5h-1.68M58.5 305.5h3.36M226.5 305.5h-3.36M58.5 300.5h1.68M226.5 300.5h-1.68M58.5 296.5h1.68M226.5 296.5h-1.68M58.5 292.5h1.68M226.5 292.5h-1.68M58.5 287.5h3.36M226.5 287.5h-3.36M58.5 283.5h1.68M226.5 283.5h-1.68M58.5 278.5h1.68M226.5 278.5h-1.68M58.5 274.5h1.68M226.5 274.5h-1.68M58.5 270.5h3.36M226.5 270.5h-3.36M58.5 265.5h1.68M226.5 265.5h-1.68M58.5 261.5h1.68M226.5 261.5h-1.68M58.5 257.5h1.68M226.5 257.5h-1.68M58.5 252.5h3.36M226.5 252.5h-3.36M58.5 248.5h1.68M226.5 248.5h-1.68M58.5 244.5h1.68M226.5 244.5h-1.68M58.5 239.5h1.68M226.5 239.5h-1.68M58.5 235.5h3.36M226.5 235.5h-3.36M58.5 231.5h1.68M226.5 231.5h-1.68M58.5 226.5h1.68M226.5 226.5h-1.68M58.5 222.5h1.68M226.5 222.5h-1.68M58.5 218.5h3.36M226.5 218.5h-3.36" stroke="#000" stroke-width="1.0" fill="none"/>
<rect x="58.5" y="218" width="168" height="104.5" stroke="#000" stroke-width="1.15" fill="none"/>
<text x="58.5" y="340.7" font-size="15.0" text-anchor="middle">0</text>
<text x="92.1" y="340.7" font-size="15.0" text-anchor="middle">5</text>
<text x="125.7" y="340.7" font-size="15.0" text-anchor="middle">10</text>
<text x="159.3" y="340.7" font-size="15.0" text-anchor="middle">15</text>
<text x="192.9" y="340.7" font-size="15.0" text-anchor="middle">20</text>
<text x="226.5" y="340.7" font-size="15.0" text-anchor="middle">25</text>
<text x="54.9" y="321.9" font-size="15.0" text-anchor="end">0</text>
<text x="54.9" y="309.89" font-size="15.0" text-anchor="end">200</text>
<text x="54.9" y="292.48" font-size="15.0" text-anchor="end">400</text>
<text x="54.9" y="275.06" font-size="15.0" text-anchor="end">600</text>
<text x="54.9" y="257.64" font-size="15.0" text-anchor="end">800</text>
<text x="54.9" y="240.23" font-size="15.0" text-anchor="end">1000</text>
<text x="54.9" y="228.22" font-size="15.0" text-anchor="end">1200</text>
<text x="142.5" y="356.4" font-size="14.6" text-anchor="middle">Period (d)</text>
<text transform="translate(11.2 270.25) rotate(-90)" x="0" y="0" font-size="14.6" text-anchor="middle">Power</text>
<text x="142.6" y="240.2" font-size="13.4">P<tspan font-size="8.2" dy="3">rot</tspan><tspan font-size="13" dy="-3"> = 6.64 d</tspan></text>
<path d="M352.11 249.65 L352.9 248.37 L353.85 248.06 L354.8 247.76 L355.74 247.46 L356.69 247.29 L357.64 247.12 L358.59 246.95 L359.53 246.78 L360.44 246.98 L361.35 247.19 L362.26 247.4 L363.16 247.61 L364.07 248.12 L364.98 248.63 L365.89 249.14 L366.8 249.65 L367.74 250.32 L368.69 250.98 L369.64 251.64 L370.58 252.3 L371.49 252.98 L372.4 253.67 L373.31 254.35 L374.22 255.03 L375.16 255.92 L376.11 256.81 L377.06 257.7 L378 258.59 L378.91 259.57 L379.82 260.56 L380.73 261.54 L381.64 262.53 L382.58 263.71 L383.53 264.9 L384.48 266.09 L385.42 267.27 L386.37 268.46 L387.32 269.64 L388.23 270.65 L389.14 271.65 L390.04 272.65 L390.95 273.66 L391.87 274.46 L392.78 275.26 L393.7 276.07 L394.61 276.87 L395.53 277.67 L396.34 278.11 L397.15 278.56 L397.96 279 L398.78 279.45 L399.59 279.89 L400.4 280.33 L401.21 280.78 L402 281.07 L402.79 281.36 L403.58 281.65 L404.37 281.94 L405.16 282.24 L405.95 282.53 L406.74 282.82 L407.55 283.07 L408.36 283.31 L409.17 283.56 L409.97 283.8 L410.78 284.05 L411.59 284.3 L412.4 284.54 L413.21 284.79 L414.06 284.91 L414.92 285.03 L415.77 285.15 L416.62 285.27 L417.47 285.39 L418.29 285.15 L419.1 284.9 L419.91 284.65 L420.72 284.4 L421.53 284.15 L422.35 283.9 L423.16 283.65 L423.97 283.19 L424.78 282.72 L425.59 282.26 L426.41 281.79 L427.22 281.33 L428.03 280.86 L428.84 280.4 L429.69 279.85 L430.54 279.3 L431.39 278.75 L432.24 278.2 L433.08 277.65 L433.93 277.1 L434.78 276.55 L435.63 276.01 L436.5 275.6 L437.37 275.19 L438.24 274.78 L439.1 274.38 L439.97 273.97 L440.84 273.56 L441.71 273.16 L442.58 272.75 L443.37 272.36 L444.16 271.98 L444.94 271.59 L445.73 271.2 L446.52 270.82 L447.31 270.43 L448.1 270.05 L448.89 269.66 L449.68 269.27 L450.47 268.89 L451.28 268.51 L452.08 268.13 L452.89 267.75 L453.69 267.37 L454.5 266.99 L455.3 266.62 L456.11 266.24 L456.91 265.86 L457.72 265.48" fill="none" stroke="#000" stroke-width="1.9" stroke-linejoin="round" stroke-linecap="round"/>
<path d="M351.37 249.07h0M352.04 248.96h0M352.41 248.29h0M354.1 248.39h0M354.99 246.76h0M356.64 247.25h0M356.54 247.01h0M357.52 247.07h0M358.59 247.12h0M358.91 247.27h0M360.18 246.35h0M361.08 247.34h0M362.93 247.36h0M363.06 248.07h0M364.61 248.63h0M365.18 248.06h0M365.89 249.12h0M367.13 249.23h0M367.63 250.48h0M368.74 250.43h0M369.19 253.21h0M370.78 252.66h0M372.07 253.44h0M372.04 253.39h0M373.29 253.98h0M374.49 255.52h0M375.05 257.77h0M375.87 258.18h0M376.52 258.55h0M378.86 259.83h0M378.88 260.78h0M379.78 260.82h0M380.5 261.28h0M381.37 263.08h0M381.65 263.21h0M382.67 264.08h0M383.17 263.82h0M383.48 263.24h0M384.69 265.05h0M384.33 266.24h0M385.2 266.56h0M385.4 268.57h0M385.84 268.28h0M386.6 268.67h0M387.14 268.28h0M387.52 269.41h0M388.18 271.4h0M389.29 272.25h0M390.27 273.14h0M391.46 273.53h0M391.7 274.27h0M393.55 275.44h0M393.77 276.03h0M394.05 276.99h0M395.67 277.67h0M396.28 276.62h0M396.97 277.37h0M397.65 279.86h0M399.03 278.92h0M399.89 279.2h0M400.06 280.96h0M401.65 281.26h0M402.41 280.29h0M402.75 280.44h0M403.66 281.4h0M404.84 282.12h0M405.23 283.31h0M405.36 281.49h0M407.03 282.86h0M407.61 283.47h0M408.15 282.67h0M408.92 284.48h0M409.4 284.34h0M411.04 283.58h0M411.52 284.64h0M412.76 283.38h0M413.48 284.61h0M413.8 285.08h0M414.5 285.54h0M415.5 286.38h0M416.49 285.35h0M417.55 285.25h0M418.01 284.89h0M419.29 284.94h0M420.56 284.85h0M420.79 284.57h0M421.07 284.48h0M422.66 282.25h0M423.28 284.41h0M424.36 283.24h0M424.9 283.23h0M425.46 281.46h0M426.42 281.09h0M427.34 281.16h0M428 280.5h0M428.3 279.31h0M429.04 279.24h0M430.91 279.03h0M431.54 279.83h0M431.89 277.34h0M433.88 276.5h0M433.33 276.82h0M435.36 275.82h0M435.96 276.38h0M436.54 274.79h0M437.41 274.95h0M438.38 275.34h0M439.23 274.68h0M439.86 272.65h0M441.22 273.29h0M441.92 273.41h0M442.44 273.84h0M442.7 272.17h0M444.03 272.61h0M445.14 271.31h0M446.15 271.04h0M446.66 271.64h0M447.25 270.33h0M447.75 269.97h0M448.52 269.35h0M450.08 269.62h0M451.24 268.46h0M451.1 268.57h0M452.38 266.75h0M452.79 268.17h0M453.86 267.21h0M454.72 267.06h0M455.18 266.05h0M455.99 266.01h0M457.21 266.44h0M457.86 266.29h0" stroke="#000" stroke-width="1.7" stroke-linecap="round" fill="none"/>
<path d="M318.52 265.1 L319.33 264.62 L320.15 264.15 L320.96 263.67 L321.77 263.2 L322.58 262.72 L323.39 262.24 L324.21 261.77 L325.12 260.89 L326.04 260.01 L326.95 259.13 L327.87 258.26 L328.78 257.38 L329.7 256.39 L330.62 255.41 L331.53 254.42 L332.45 253.44 L333.36 252.45 L334.28 251.36 L335.19 250.27 L336.11 249.18 L337.03 248.09 L337.94 247 L338.83 246.02 L339.71 245.03 L340.59 244.05 L341.48 243.06 L342.36 242.08 L343.24 241.46 L344.12 240.85 L345 240.23 L345.88 239.61 L346.76 239 L347.64 238.38 L348.52 237.76 L349.43 237.32 L350.35 236.89 L351.27 236.45 L352.18 236.01 L353.1 235.57 L353.93 235.42 L354.76 235.27 L355.58 235.11 L356.41 234.96 L357.33 235.19 L358.24 235.42 L359.16 235.64 L360.08 235.87 L360.99 236.1 L361.91 236.64 L362.82 237.19 L363.74 237.73 L364.65 238.28 L365.57 238.82 L366.49 239.7 L367.4 240.58 L368.32 241.46 L369.23 242.34 L370.15 243.22 L371.06 244.08 L371.98 244.94 L372.9 245.81 L373.81 246.67 L374.73 247.53 L375.6 248.76 L376.46 249.99 L377.33 251.22 L378.2 252.45 L379.03 253.69 L379.86 254.92 L380.69 256.15 L381.52 257.38 L382.38 258.61 L383.25 259.84 L384.12 261.07 L384.99 262.3 L385.86 263.4 L386.73 264.49 L387.59 265.59 L388.46 266.69 L389.29 267.79 L390.12 268.89 L390.95 269.98 L391.78 271.08 L392.69 271.96 L393.61 272.84 L394.52 273.72 L395.44 274.6 L396.36 275.48 L397.17 275.94 L397.98 276.41 L398.79 276.87 L399.6 277.34 L400.42 277.8 L401.23 278.27 L402.04 278.73 L402.85 279.12 L403.66 279.51 L404.48 279.9 L405.29 280.29 L406.1 280.68 L406.91 281.07 L407.72 281.46 L408.59 281.6 L409.46 281.74 L410.33 281.88 L411.2 282.03 L412.07 282.17 L412.93 282.31 L413.8 282.45 L414.67 282.59 L415.54 282.66 L416.41 282.72 L417.28 282.78 L418.14 282.85 L419.01 282.91 L419.88 282.97 L420.67 283.17 L421.46 283.38 L422.25 283.58 L423.04 283.78 L423.83 283.98 L424.62 284.18 L425.43 283.84 L426.25 283.5 L427.06 283.16 L427.88 282.82 L428.69 282.48 L429.51 282.14 L430.33 281.65 L431.14 281.15 L431.96 280.66 L432.77 280.17 L433.59 279.68 L434.4 279.19 L435.26 278.86 L436.12 278.54 L436.98 278.21 L437.83 277.89 L438.69 277.56 L439.55 277.24 L440.4 276.91 L441.26 276.66 L442.12 276.42 L442.98 276.17 L443.83 275.92 L444.69 275.67 L445.55 275.42 L446.4 275.17 L447.28 274.92 L448.16 274.67 L449.04 274.43 L449.92 274.18 L450.8 273.93 L451.68 273.68 L452.56 273.43 L453.38 272.96 L454.2 272.49 L455.02 272.02 L455.84 271.55 L456.67 271.08 L457.45 270.34 L458.24 269.61" fill="none" stroke="#000" stroke-width="1.9" stroke-linejoin="round" stroke-linecap="round"/>
<path d="M318.24 264.23h0M319.67 264.67h0M320.34 263.15h0M320.48 263.3h0M321.58 263.35h0M323.19 263.19h0M323.27 261.66h0M324.24 261.66h0M325.48 260.47h0M326.88 259.88h0M326.79 259.31h0M327.72 257.97h0M328.99 257.51h0M329.4 256.82h0M330.27 255.51h0M331.4 252.61h0M332.28 252.88h0M333.17 251.48h0M333.85 252.57h0M334.43 250.6h0M334.9 250.15h0M335.26 251h0M335.67 249.41h0M336.35 250.15h0M336.51 249.27h0M337.39 248.34h0M337.4 248.33h0M337.07 247.21h0M339.12 245.71h0M339.7 243.49h0M340.52 245.24h0M341.48 243.16h0M341.63 240.71h0M343.16 241.46h0M344.28 239.56h0M345.06 241.08h0M345.69 239.22h0M346.92 238.74h0M347.84 237.98h0M347.98 237.66h0M349.5 237.88h0M350.13 235.9h0M351.54 235.97h0M351.29 236.78h0M352.54 234.46h0M353.95 234.69h0M355.26 234.55h0M355.39 235.66h0M356.35 234.91h0M357.84 234.48h0M358.61 234.95h0M359.04 235.86h0M359.77 237.38h0M360.52 235.85h0M361.38 236.41h0M362.83 237.9h0M363.66 237.38h0M364.45 239.28h0M365.13 237.45h0M366.88 239.85h0M367.62 241.52h0M368.34 242.08h0M369.56 242.37h0M370.26 243.93h0M371.42 243.68h0M372.18 245.61h0M373.04 245.36h0M374.22 245.62h0M374.15 247.25h0M374.92 247.23h0M375.1 248.41h0M376 248.76h0M376.27 250.45h0M376.96 251.48h0M377.94 251.58h0M378.2 251.47h0M378.72 251.39h0M378.97 253.78h0M378.55 252.91h0M379.24 253.93h0M379.61 255.39h0M380.35 255.13h0M380.66 258.01h0M381.73 257.2h0M381.66 256.78h0M381.88 258.35h0M382.5 258.19h0M383.12 259.32h0M383.35 260.21h0M383.62 260.89h0M383.86 262.36h0M384.98 262.32h0M384.58 262.57h0M385.99 262.61h0M386.24 264.7h0M387.23 266.02h0M388.32 268.26h0M389.62 266.94h0M389.97 268.21h0M390.49 269.25h0M391.86 271.27h0M392.8 272.08h0M393.61 273.18h0M393.85 272.51h0M395.42 272.89h0M396.47 277.06h0M397.33 277.07h0M397.69 276.24h0M399.2 277.37h0M400.2 277.24h0M400.23 278.25h0M400.81 277.65h0M402.09 279.53h0M403.12 278.07h0M403.15 280.45h0M404.25 279.94h0M404.96 280.14h0M405.74 281.31h0M406.08 280.63h0M407.72 282.19h0M408.55 280.61h0M409.01 281.46h0M410.11 282.3h0M411.51 282.02h0M411.86 282.27h0M413.02 282.9h0M413.32 283.79h0M414.42 283.48h0M415.04 282.56h0M416.33 282.43h0M417.66 280.82h0M418.32 283.51h0M419.15 282.48h0M419.56 282.21h0M419.79 283.41h0M421.78 283.11h0M421.9 284.43h0M423.07 284.63h0M423.31 283.97h0M424.54 283.54h0M426.16 284.07h0M425.54 284.67h0M427.45 284.25h0M427.77 283.32h0M428.8 282.55h0M429.44 282.52h0M430.49 281.05h0M430.49 280.19h0M432.05 282.04h0M433.16 279.81h0M433.88 281.1h0M433.82 278.79h0M434.52 278.54h0M435.95 278.24h0M437.24 277.36h0M438.24 278h0M438.58 277.73h0M439.1 277.11h0M440.76 276.38h0M441.45 276.11h0M442.74 276.61h0M442.21 274.68h0M443.31 276.61h0M444.09 275.49h0M445.89 274.68h0M446.37 275.45h0M448.2 275.43h0M448.01 274.45h0M448.83 274.34h0M450.54 272.69h0M450.38 274.52h0M451.19 273.22h0M452.82 272.39h0M453.39 272.21h0M454.69 272.62h0M455.36 272.47h0M455.64 272.36h0M455.65 270.7h0M457.24 271.7h0M458.36 269.51h0" stroke="#000" stroke-width="1.7" stroke-linecap="round" fill="none"/>
<path d="M319.03 268.87 L319.82 268.13" fill="none" stroke="#000" stroke-width="1.9" stroke-linejoin="round" stroke-linecap="round"/>
<path d="M318.82 267.89h0M319.92 268.6h0" stroke="#000" stroke-width="1.7" stroke-linecap="round" fill="none"/>
<path d="M324.24 259.65 L324.88 255.48 L325.98 252.08 L326.93 250.6 L327.87 249.12 L328.66 248.37 L329.45 247.61 L330.24 246.85 L331.09 246.25 L331.93 245.64 L332.77 245.03 L333.61 244.53 L334.45 244.02 L335.3 243.52 L336.24 243.06 L337.19 242.61 L338.14 242.16 L338.98 241.7 L339.82 241.25 L340.66 240.79 L341.77 239.88 L342.87 238.98 L343.98 237.76 L345.08 236.55 L346.03 235.42 L346.98 234.28 L348.08 233.52 L349.19 232.77 L350.14 232.54 L351.08 232.31 L352.03 232.08 L352.88 232.02 L353.74 231.96 L354.59 231.9 L355.44 231.84 L356.29 231.78 L357.12 231.91 L357.95 232.05 L358.78 232.18 L359.61 232.31 L360.56 232.72 L361.5 233.12 L362.45 233.52 L363.45 234.28 L364.45 235.04 L365.45 235.8 L366.34 236.68 L367.24 237.56 L368.13 238.45 L368.92 239.38 L369.71 240.31 L370.5 241.25 L371.33 242.57 L372.16 243.9 L372.99 245.22 L373.82 246.55 L374.73 247.87 L375.63 249.2 L376.54 250.52 L377.45 251.85 L378.36 253.02 L379.26 254.2 L380.17 255.37 L381.08 256.54 L381.99 257.7 L382.9 258.85 L383.8 260.01 L384.71 261.16 L385.53 261.95 L386.34 262.73 L387.16 263.51 L387.97 264.29 L388.79 265.08 L389.61 265.86 L390.42 266.53 L391.24 267.2 L392.05 267.86 L392.87 268.53 L393.68 269.2 L394.5 269.87 L395.29 270.55 L396.08 271.23 L396.87 271.92 L397.66 272.6 L398.45 273.28 L399.24 273.96 L400.05 274.54 L400.87 275.12 L401.68 275.7 L402.5 276.28 L403.31 276.86 L404.13 277.44 L404.99 277.75 L405.84 278.05 L406.7 278.35 L407.56 278.66 L408.42 278.96 L409.27 279.26 L410.13 279.56 L411.01 279.6 L411.89 279.63 L412.77 279.66 L413.65 279.69 L414.53 279.73 L415.41 279.76 L416.29 279.79 L417.09 279.59 L417.9 279.38 L418.7 279.18 L419.51 278.97 L420.31 278.77 L421.12 278.56 L421.92 278.36 L422.73 278.16 L423.53 277.95 L424.34 277.75 L425.15 277.49 L425.95 277.23 L426.76 276.96 L427.57 276.7 L428.37 276.44 L429.18 276.18 L429.99 275.92 L430.79 275.66 L431.6 275.4 L432.45 275.17 L433.31 274.94 L434.16 274.72 L435.01 274.49 L435.86 274.26 L436.72 274.04 L437.57 273.81 L438.42 273.58 L439.27 273.35 L440.13 273.13 L440.96 272.89 L441.8 272.66 L442.64 272.42 L443.47 272.19 L444.31 271.95 L445.15 271.72 L445.98 271.48 L446.82 271.25 L447.66 271.01 L448.49 270.78 L449.37 270.28 L450.25 269.78 L451.13 269.29 L452.01 268.79 L452.89 268.29 L453.77 267.79 L454.65 267.3 L455.51 266.64 L456.36 265.98 L457.22 265.32 L458.08 264.66" fill="none" stroke="#000" stroke-width="1.9" stroke-linejoin="round" stroke-linecap="round"/>
<path d="M324.09 258.68h0M324.31 259.49h0M324.29 257.76h0M324.08 258.3h0M324.79 258.36h0M324.73 257.44h0M325.14 256.2h0M325.36 255.68h0M325.24 254.37h0M325.89 253.34h0M325.32 253.12h0M325.91 251.76h0M326.31 251.01h0M327.22 250h0M327.17 250.01h0M327.71 249.12h0M328.9 248.67h0M329.44 247.26h0M330.58 247.29h0M330.71 246.08h0M331.49 246h0M332.52 245.12h0M333.73 244.43h0M334.32 243.15h0M335.06 241.91h0M335.98 243.81h0M337.16 243.2h0M337.86 241.59h0M338.91 241.82h0M340.28 241.15h0M340.97 240.54h0M341.41 240.42h0M341.86 241.3h0M342.32 240.38h0M342.72 240.12h0M342.99 238.02h0M344 236.93h0M344.3 237.67h0M344.51 236.21h0M345.97 235.5h0M346.39 235.1h0M346.49 235.17h0M346.91 233.92h0M347.67 233.81h0M349.25 232.24h0M349.97 232.71h0M351.42 233.21h0M351.91 231.65h0M352.7 231.48h0M353.49 231.22h0M354.36 232.21h0M356.08 231.27h0M355.95 230.3h0M357.7 232.72h0M358.66 231.87h0M358.9 232.07h0M359.54 232.67h0M360.53 232.68h0M361.59 232.32h0M362.18 235.31h0M363.24 233.37h0M364.71 235.03h0M366.13 235.14h0M366.04 237.13h0M367.32 237.5h0M368.74 238.1h0M369.34 239.21h0M369.01 240.84h0M370.08 241.59h0M370.45 242.4h0M371.13 242.8h0M372 242.63h0M371.98 243.85h0M372.6 245.1h0M372.99 245.53h0M373.33 245.83h0M373.62 245.61h0M374.05 247.44h0M374.34 247.1h0M374.81 249.31h0M375.32 248.72h0M375.85 250.53h0M376.46 250.93h0M377.46 252.21h0M377.8 251.36h0M377.38 252.3h0M378.13 252.52h0M379.1 254.72h0M379.13 254.18h0M379.07 253.98h0M379.85 255.83h0M380.43 256.48h0M380.77 256.32h0M381.91 257.12h0M381.73 259.11h0M382.64 259.45h0M383.04 258.45h0M383.21 259.24h0M383.25 260.46h0M384.83 261.19h0M384.74 262.1h0M384.96 261.67h0M386.16 262.65h0M386.7 262.57h0M387.97 263.99h0M388.88 266.57h0M389.22 265.99h0M390.9 266.94h0M390.76 268.34h0M392 268.63h0M392.96 267.56h0M393.63 269.24h0M394.31 270.24h0M394.68 270.46h0M396.4 270.86h0M397.23 271.75h0M397.86 271.8h0M398.19 271.67h0M399.65 273.66h0M399.97 275.04h0M401.3 276.68h0M401.71 276.69h0M402.56 276.8h0M403.89 276.94h0M403.85 278.84h0M405.16 279.53h0M406.08 276.85h0M406.91 277.75h0M407.92 278.4h0M409.11 279.4h0M409.15 278.29h0M410.88 278.92h0M411.26 279.28h0M411.83 279.5h0M412.6 280.32h0M413.46 280.47h0M414.85 279.78h0M415.77 279.57h0M416.61 279.53h0M416.88 279.89h0M417.8 280.2h0M418.76 278.04h0M420.31 278.45h0M420.23 278.02h0M421.37 277.95h0M421.67 278.79h0M422.69 277.58h0M423.43 276.64h0M424.21 277.31h0M425.49 277.73h0M426.22 276.45h0M426.8 277.14h0M427.66 276.62h0M428.14 276.42h0M429.3 276.37h0M430.23 275.96h0M431.02 275.23h0M431.76 274.48h0M432.89 275.26h0M433.35 274.82h0M433.72 275.14h0M434.91 274.24h0M436.41 274.56h0M436.75 273.42h0M438.2 273.51h0M437.8 274.32h0M439.37 272.54h0M439.85 273.13h0M441.47 273.16h0M442.06 273.78h0M442.32 273.87h0M443.08 272.59h0M443.67 273.58h0M445.23 271.71h0M446.11 271.59h0M447.41 271.16h0M447.4 271.48h0M448.35 270.99h0M449.04 270.12h0M450.03 271.13h0M450.81 268.61h0M452.95 267.47h0M453.15 268.16h0M454.14 267.13h0M454.91 266.85h0M455.65 266.55h0M456.47 267.37h0M457.54 265.82h0M458.08 264.09h0" stroke="#000" stroke-width="1.7" stroke-linecap="round" fill="none"/>
<path d="M318.94 264 L319.79 263.34 L320.65 262.68 L321.47 262 L322.28 261.31 L323.1 260.63 L323.91 259.95 L324.73 259.27 L325.54 258.59 L326.33 257.82 L327.12 257.05 L327.91 256.28 L328.7 255.51 L329.49 254.74 L330.28 253.97 L331.1 253.1 L331.91 252.23 L332.73 251.36 L333.54 250.49 L334.36 249.62 L335.17 248.74 L335.99 247.87 L336.81 247 L337.62 246.13 L338.44 245.26 L339.25 244.39 L340.07 243.52 L340.86 243.05 L341.65 242.59 L342.44 242.12 L343.23 241.65 L344.02 241.18 L344.81 240.72 L345.64 240.47 L346.47 240.22 L347.31 239.97 L348.14 239.72 L348.98 239.47 L349.81 239.22 L350.65 238.98 L351.5 238.93 L352.35 238.88 L353.2 238.84 L354.06 238.79 L354.91 238.75 L355.7 239.22 L356.49 239.68 L357.28 240.15 L358.07 240.62 L358.86 241.08 L359.65 241.55 L360.46 242.09 L361.27 242.63 L362.08 243.17 L362.89 243.71 L363.71 244.25 L364.52 244.8 L365.33 245.34 L366.25 246.32 L367.16 247.31 L368.08 248.29 L368.99 249.27 L369.91 250.26 L370.82 251.35 L371.74 252.44 L372.66 253.53 L373.57 254.62 L374.49 255.71 L375.37 256.59 L376.25 257.47 L377.14 258.35 L378.02 259.22 L378.91 260.1 L379.82 261.09 L380.74 262.07 L381.65 263.06 L382.57 264.04 L383.49 265.03 L384.3 265.58 L385.11 266.13 L385.92 266.68 L386.73 267.23 L387.55 267.78 L388.36 268.34 L389.17 268.89 L390 269.43 L390.84 269.97 L391.67 270.51 L392.51 271.05 L393.34 271.59 L394.18 272.13 L395.01 272.67 L395.82 273.22 L396.63 273.78 L397.45 274.33 L398.26 274.88 L399.07 275.43 L399.88 275.98 L400.69 276.54 L401.51 276.69 L402.32 276.84 L403.13 276.99 L403.94 277.14 L404.75 277.29 L405.57 277.44 L406.38 277.6" fill="none" stroke="#000" stroke-width="1.9" stroke-linejoin="round" stroke-linecap="round"/>
<path d="M319.51 264.08h0M319.86 263.33h0M320.36 261.42h0M321.49 262.63h0M322.23 261.85h0M323.54 259.52h0M324.05 261.52h0M324.77 260.04h0M325.94 259.02h0M325.6 257.13h0M326.55 257.83h0M327.07 256.38h0M328.84 255.84h0M329.29 253.7h0M329.55 254.02h0M331.18 253.24h0M332.15 251.48h0M332.51 251.35h0M333.39 250.89h0M334.5 249.07h0M334.98 249.39h0M336.51 247.19h0M337.11 247.54h0M338.05 244.78h0M338.41 245.46h0M339.45 244.25h0M339.12 243.75h0M341.48 243.56h0M341.06 242.87h0M342.34 241.62h0M343.54 241.69h0M343.78 241.63h0M344.67 239.81h0M345.91 239.34h0M346.52 240.14h0M347.11 240.54h0M348.31 240.14h0M348.6 240.82h0M349.69 239.79h0M350.55 238.37h0M351.83 240.16h0M352.87 239.72h0M352.83 240.12h0M354.32 239.17h0M354.52 238.51h0M355.21 239.98h0M356.53 239.28h0M357.55 239.28h0M357.51 240.26h0M358.9 241.97h0M359.97 242.12h0M360.76 243h0M360.9 243.82h0M361.89 242.56h0M363.09 244.12h0M364.43 244.83h0M364.55 244.48h0M365.48 246.35h0M366.17 245.47h0M367.19 247.71h0M368.42 248.54h0M369.23 248.8h0M369.51 250.25h0M369.9 250.99h0M370.12 252.09h0M371.3 253.59h0M371.37 253.74h0M371.65 251.03h0M372.57 253.57h0M372.51 254.35h0M373.69 253.95h0M374.04 254.74h0M374.11 255.96h0M374.99 256.22h0M376.37 258.63h0M376.85 257.44h0M377.71 260.47h0M379.22 261.36h0M380.35 262.09h0M380.68 262.98h0M381.95 263.9h0M383.08 265.42h0M383.14 264h0M383.86 266h0M384.99 265.38h0M385.4 267.41h0M386.78 266.62h0M387.88 267.7h0M388.51 268.55h0M389.05 268.44h0M390.49 269.9h0M390.83 270.49h0M391.45 270.53h0M392.78 269.5h0M392.83 271.47h0M393.78 271.82h0M395.14 271.6h0M395.86 273.03h0M396.69 274.42h0M396.98 274.21h0M398.12 275.49h0M399.38 275.14h0M400.33 274.82h0M400.46 275.99h0M401.84 276.33h0M402.24 276.69h0M402.63 276.23h0M404.05 277.75h0M404.92 277.5h0M406.26 277.01h0M406.77 277.84h0" stroke="#000" stroke-width="1.7" stroke-linecap="round" fill="none"/>
<path d="M410.01 281.68 L410.85 282.49 L411.69 283.3 L412.54 284.11 L413.37 284.16 L414.2 284.22 L415.04 284.27 L415.87 284.32 L416.71 284.38 L417.54 284.43 L418.38 284.49 L419.21 284.54 L420.03 284.6 L420.86 284.66 L421.69 284.71 L422.52 284.77 L423.35 284.83 L424.18 284.88 L425.01 284.94 L425.86 284.88 L426.7 284.83 L427.55 284.77 L428.4 284.71 L429.25 284.66 L430.1 284.6 L430.95 284.54 L431.8 284.49 L432.63 284.39 L433.45 284.3 L434.28 284.2 L435.11 284.11 L435.94 284.01 L436.77 283.92 L437.6 283.82 L438.43 283.73 L439.26 283.58 L440.08 283.43 L440.91 283.27 L441.74 283.12 L442.57 282.97 L443.4 282.82 L444.23 282.67 L445.06 282.52 L445.9 282.25 L446.74 281.99 L447.58 281.72 L448.43 281.46 L449.27 281.19 L450.11 280.93 L450.94 280.02 L451.77 279.11 L452.6 278.2 L453.43 277.29 L454.25 276.71 L455.08 276.12 L455.91 275.53 L456.74 274.94 L457.59 274.38 L458.45 273.82" fill="none" stroke="#000" stroke-width="2.4" stroke-linejoin="round" stroke-linecap="round"/>
<path d="M409.49 281.81h0M410.23 283.28h0M411.65 283.19h0M412.39 284.58h0M413.04 285.8h0M414.18 286.33h0M414.98 284.07h0M415.58 283.72h0M416.57 285.1h0M417.24 285.29h0M418.77 284.22h0M420.14 284.23h0M419.67 284.49h0M420.68 285.7h0M421.44 283.18h0M422.84 283.8h0M422.47 285.1h0M423.73 284.12h0M425.23 285.51h0M425.43 285.8h0M426.35 285.34h0M428.39 284.26h0M428.55 284.06h0M429.46 284.94h0M429.31 283.01h0M430.49 282.35h0M432.2 285.66h0M432.66 284.53h0M433.66 284.07h0M434.18 284.38h0M435.04 283h0M436.27 284.14h0M437.3 283.38h0M437.71 284.84h0M438.83 284.44h0M439.34 285.64h0M439.76 283.72h0M440.45 281.65h0M441.88 284.14h0M442.43 283.76h0M444.8 284.28h0M443.61 282.68h0M444.56 281.89h0M446.52 282.93h0M446.67 281.13h0M447.86 280.21h0M448.27 281.99h0M448.86 281.77h0M449.35 281.38h0M451.03 281.01h0M452.78 279.85h0M452.4 277.8h0M453.3 276.63h0M454.81 275.09h0M454.55 274.86h0M455.22 275.41h0M456.39 274.9h0M457.13 275.67h0M458.65 273.56h0" stroke="#000" stroke-width="1.7" stroke-linecap="round" fill="none"/>
<path d="M319.3 273.26 L320.15 272.7 L321 272.14 L321.82 271.66 L322.65 271.17 L323.47 270.69 L324.29 270.2 L325.11 269.72 L325.96 269.31 L326.81 268.9 L327.67 268.49 L328.52 268.08 L329.37 267.68 L330.2 267.18 L331.03 266.69 L331.86 266.2 L332.69 265.71 L333.48 263.89 L334.27 262.07" fill="none" stroke="#000" stroke-width="2.4" stroke-linejoin="round" stroke-linecap="round"/>
<path d="M319.74 270.88h0M320.23 271.15h0M321.09 272.29h0M321.82 270.9h0M322.25 272.94h0M322 272.77h0M324.68 268.32h0M324.93 268.49h0M326.12 270.52h0M326.54 268.24h0M328.19 268.07h0M329.09 269.51h0M329.45 267.58h0M330.99 267.72h0M331.5 266.45h0M332.11 265.65h0M333.28 265.38h0M332.99 266.54h0M332.97 263.12h0M334.37 264.05h0M334.08 262.89h0" stroke="#000" stroke-width="1.7" stroke-linecap="round" fill="none"/>
<circle cx="328.43" cy="263.36" r="1.0" fill="#000"/>
<circle cx="327.8" cy="263.81" r="1.0" fill="#000"/>
<circle cx="327.01" cy="264.72" r="1.0" fill="#000"/>
<circle cx="326.38" cy="266.54" r="1.0" fill="#000"/>
<circle cx="458.48" cy="265.71" r="1.0" fill="#000"/>
<circle cx="319.59" cy="267.6" r="1.0" fill="#000"/>
<circle cx="318.8" cy="268.28" r="1.0" fill="#000"/>
<circle cx="324.17" cy="269.34" r="1.0" fill="#000"/>
<circle cx="322.75" cy="270.7" r="1.0" fill="#000"/>
<circle cx="323.22" cy="272.07" r="1.0" fill="#000"/>
<circle cx="325.59" cy="270.02" r="1.0" fill="#000"/>
<circle cx="320.7" cy="268.74" r="1.0" fill="#000"/>
<circle cx="321.8" cy="269.72" r="1.0" fill="#000"/>
<circle cx="323.69" cy="271.23" r="1.0" fill="#000"/>
<circle cx="352.59" cy="253.67" r="1.0" fill="#000"/>
<circle cx="343.75" cy="305.92" r="1.0" fill="#000"/>
<circle cx="346.43" cy="309.55" r="1.0" fill="#000"/>
<circle cx="351.8" cy="307.89" r="1.0" fill="#000"/>
<circle cx="398.53" cy="310.99" r="1.0" fill="#000"/>
<circle cx="445.3" cy="279.56" r="1.0" fill="#000"/>
<circle cx="389.61" cy="277.44" r="1.0" fill="#000"/>
<circle cx="431.6" cy="282.67" r="1.0" fill="#000"/>
<circle cx="333.91" cy="255.48" r="1.0" fill="#000"/>
<circle cx="376.22" cy="289.11" r="1.0" fill="#000"/>
<circle cx="318.4" cy="279.3" r="1.0" fill="#000"/>
<circle cx="318.9" cy="276.4" r="1.0" fill="#000"/>
<circle cx="319.7" cy="275.2" r="1.0" fill="#000"/>
<circle cx="320.5" cy="274" r="1.0" fill="#000"/>
<circle cx="321.3" cy="272.6" r="1.0" fill="#000"/>
<circle cx="322.2" cy="271.6" r="1.0" fill="#000"/>
<path d="M307.5 322.5v-1.04M307.5 218v1.04M318.5 322.5v-2.09M318.5 218v2.09M329.5 322.5v-1.04M329.5 218v1.04M339.5 322.5v-1.04M339.5 218v1.04M350.5 322.5v-1.04M350.5 218v1.04M360.5 322.5v-2.09M360.5 218v2.09M371.5 322.5v-1.04M371.5 218v1.04M381.5 322.5v-1.04M381.5 218v1.04M392.5 322.5v-1.04M392.5 218v1.04M402.5 322.5v-2.09M402.5 218v2.09M413.5 322.5v-1.04M413.5 218v1.04M423.5 322.5v-1.04M423.5 218v1.04M434.5 322.5v-1.04M434.5 218v1.04M445.5 322.5v-2.09M445.5 218v2.09M455.5 322.5v-1.04M455.5 218v1.04M466.5 322.5v-1.04M466.5 218v1.04M304.5 322.5h1.3M472.5 322.5h-1.3M304.5 320.5h1.3M472.5 320.5h-1.3M304.5 318.5h1.3M472.5 318.5h-1.3M304.5 316.5h1.3M472.5 316.5h-1.3M304.5 315.5h3.36M472.5 315.5h-3.36M304.5 313.5h1.3M472.5 313.5h-1.3M304.5 311.5h1.3M472.5 311.5h-1.3M304.5 309.5h1.3M472.5 309.5h-1.3M304.5 307.5h1.3M472.5 307.5h-1.3M304.5 305.5h1.3M472.5 305.5h-1.3M304.5 303.5h1.3M472.5 303.5h-1.3M304.5 301.5h1.3M472.5 301.5h-1.3M304.5 300.5h3.36M472.5 300.5h-3.36M304.5 298.5h1.3M472.5 298.5h-1.3M304.5 296.5h1.3M472.5 296.5h-1.3M304.5 294.5h1.3M472.5 294.5h-1.3M304.5 292.5h1.3M472.5 292.5h-1.3M304.5 290.5h1.3M472.5 290.5h-1.3M304.5 288.5h1.3M472.5 288.5h-1.3M304.5 287.5h1.3M472.5 287.5h-1.3M304.5 285.5h3.36M472.5 285.5h-3.36M304.5 283.5h1.3M472.5 283.5h-1.3M304.5 281.5h1.3M472.5 281.5h-1.3M304.5 279.5h1.3M472.5 279.5h-1.3M304.5 277.5h1.3M472.5 277.5h-1.3M304.5 275.5h1.3M472.5 275.5h-1.3M304.5 273.5h1.3M472.5 273.5h-1.3M304.5 272.5h1.3M472.5 272.5h-1.3M304.5 270.5h3.36M472.5 270.5h-3.36M304.5 268.5h1.3M472.5 268.5h-1.3M304.5 266.5h1.3M472.5 266.5h-1.3M304.5 264.5h1.3M472.5 264.5h-1.3M304.5 262.5h1.3M472.5 262.5h-1.3M304.5 260.5h1.3M472.5 260.5h-1.3M304.5 259.5h1.3M472.5 259.5h-1.3M304.5 257.5h1.3M472.5 257.5h-1.3M304.5 255.5h3.36M472.5 255.5h-3.36M304.5 253.5h1.3M472.5 253.5h-1.3M304.5 251.5h1.3M472.5 251.5h-1.3M304.5 249.5h1.3M472.5 249.5h-1.3M304.5 247.5h1.3M472.5 247.5h-1.3M304.5 245.5h1.3M472.5 245.5h-1.3M304.5 244.5h1.3M472.5 244.5h-1.3M304.5 242.5h1.3M472.5 242.5h-1.3M304.5 240.5h3.36M472.5 240.5h-3.36M304.5 238.5h1.3M472.5 238.5h-1.3M304.5 236.5h1.3M472.5 236.5h-1.3M304.5 234.5h1.3M472.5 234.5h-1.3M304.5 232.5h1.3M472.5 232.5h-1.3M304.5 231.5h1.3M472.5 231.5h-1.3M304.5 229.5h1.3M472.5 229.5h-1.3M304.5 227.5h1.3M472.5 227.5h-1.3M304.5 225.5h3.36M472.5 225.5h-3.36M304.5 223.5h1.3M472.5 223.5h-1.3M304.5 221.5h1.3M472.5 221.5h-1.3M304.5 219.5h1.3M472.5 219.5h-1.3M304.5 218.5h1.3M472.5 218.5h-1.3" stroke="#000" stroke-width="1.0" fill="none"/>
<rect x="304.5" y="218" width="168" height="104.5" stroke="#000" stroke-width="1.15" fill="none"/>
<text x="318.5" y="340.7" font-size="15.0" text-anchor="middle">0</text>
<text x="360.67" y="340.7" font-size="15.0" text-anchor="middle">2</text>
<text x="402.84" y="340.7" font-size="15.0" text-anchor="middle">4</text>
<text x="445.01" y="340.7" font-size="15.0" text-anchor="middle">6</text>
<text x="300.9" y="319.85" font-size="15.0" text-anchor="end">0.97</text>
<text x="300.9" y="304.92" font-size="15.0" text-anchor="end">0.98</text>
<text x="300.9" y="289.99" font-size="15.0" text-anchor="end">0.99</text>
<text x="300.9" y="275.06" font-size="15.0" text-anchor="end">1.00</text>
<text x="300.9" y="260.13" font-size="15.0" text-anchor="end">1.01</text>
<text x="300.9" y="245.2" font-size="15.0" text-anchor="end">1.02</text>
<text x="300.9" y="230.27" font-size="15.0" text-anchor="end">1.03</text>
<text x="388.5" y="356.1" font-size="14.6" text-anchor="middle">Phase (d)</text>
<text transform="translate(261 270.25) rotate(-90)" x="0" y="0" font-size="14.6" text-anchor="middle">Normalized Flux</text>
<circle cx="62.7" cy="511.3" r="2.55" fill="#000"/>
<circle cx="64.3" cy="507.7" r="2.55" fill="#000"/>
<circle cx="83.7" cy="508.1" r="2.55" fill="#000"/>
<circle cx="84.8" cy="510.7" r="2.55" fill="#000"/>
<circle cx="90" cy="508.6" r="2.55" fill="#000"/>
<circle cx="90.6" cy="505.9" r="2.55" fill="#000"/>
<circle cx="91.1" cy="503.8" r="2.55" fill="#000"/>
<circle cx="91.6" cy="501.2" r="2.55" fill="#000"/>
<circle cx="90.6" cy="499.1" r="2.55" fill="#000"/>
<circle cx="92.7" cy="497.5" r="2.55" fill="#000"/>
<circle cx="93.7" cy="494.8" r="2.55" fill="#000"/>
<circle cx="94.8" cy="493.3" r="2.55" fill="#000"/>
<circle cx="95.9" cy="499.6" r="2.55" fill="#000"/>
<circle cx="95.3" cy="503.8" r="2.55" fill="#000"/>
<circle cx="93.2" cy="505.9" r="2.55" fill="#000"/>
<circle cx="96.4" cy="501.7" r="2.55" fill="#000"/>
<circle cx="96.9" cy="485.9" r="2.55" fill="#000"/>
<circle cx="97.4" cy="489" r="2.55" fill="#000"/>
<circle cx="100.6" cy="490.6" r="2.55" fill="#000"/>
<circle cx="102.7" cy="491.1" r="2.55" fill="#000"/>
<circle cx="104.8" cy="492.7" r="2.55" fill="#000"/>
<circle cx="105.4" cy="485.9" r="2.55" fill="#000"/>
<circle cx="105.4" cy="488.5" r="2.55" fill="#000"/>
<circle cx="112.8" cy="477.9" r="2.55" fill="#000"/>
<circle cx="112.2" cy="476.3" r="2.55" fill="#000"/>
<circle cx="117.5" cy="474.2" r="2.55" fill="#000"/>
<circle cx="119.1" cy="472.6" r="2.55" fill="#000"/>
<circle cx="121.8" cy="470" r="2.55" fill="#000"/>
<circle cx="107" cy="459.7" r="2.55" fill="#000"/>
<circle cx="131.7" cy="433.3" r="2.55" fill="#000"/>
<circle cx="133" cy="477.6" r="2.55" fill="#000"/>
<circle cx="143.5" cy="504" r="2.55" fill="#000"/>
<circle cx="142.7" cy="510.9" r="2.55" fill="#000"/>
<circle cx="153.7" cy="494.2" r="2.55" fill="#000"/>
<circle cx="159.1" cy="480" r="2.55" fill="#000"/>
<circle cx="154.3" cy="438.8" r="2.55" fill="#000"/>
<circle cx="143.8" cy="446.4" r="2.55" fill="#000"/>
<circle cx="152" cy="446.6" r="2.55" fill="#000"/>
<circle cx="156.5" cy="445.4" r="2.55" fill="#000"/>
<circle cx="150.7" cy="453.2" r="2.55" fill="#000"/>
<circle cx="140" cy="455.8" r="2.55" fill="#000"/>
<circle cx="138.1" cy="460.3" r="2.55" fill="#000"/>
<circle cx="135.5" cy="461.9" r="2.55" fill="#000"/>
<circle cx="127.7" cy="459.6" r="2.55" fill="#000"/>
<circle cx="126.6" cy="463.1" r="2.55" fill="#000"/>
<circle cx="122.8" cy="463.8" r="2.55" fill="#000"/>
<circle cx="126" cy="465.7" r="2.55" fill="#000"/>
<circle cx="122.2" cy="466.9" r="2.55" fill="#000"/>
<circle cx="119" cy="468.8" r="2.55" fill="#000"/>
<circle cx="118.4" cy="473.9" r="2.55" fill="#000"/>
<circle cx="113.3" cy="477.1" r="2.55" fill="#000"/>
<circle cx="168.1" cy="426.8" r="2.55" fill="#000"/>
<circle cx="164.8" cy="432.8" r="2.55" fill="#000"/>
<circle cx="181.1" cy="433" r="2.55" fill="#000"/>
<circle cx="179.4" cy="436.7" r="2.55" fill="#000"/>
<circle cx="192.8" cy="436.3" r="2.55" fill="#000"/>
<circle cx="193" cy="438.6" r="2.55" fill="#000"/>
<circle cx="217.4" cy="439" r="2.55" fill="#000"/>
<circle cx="154.4" cy="438.9" r="2.55" fill="#000"/>
<circle cx="161.8" cy="440.8" r="2.55" fill="#000"/>
<circle cx="167" cy="440" r="2.55" fill="#000"/>
<circle cx="156.7" cy="445.5" r="2.55" fill="#000"/>
<circle cx="152.2" cy="446.6" r="2.55" fill="#000"/>
<circle cx="160.7" cy="451.4" r="2.55" fill="#000"/>
<circle cx="164.8" cy="452.6" r="2.55" fill="#000"/>
<circle cx="167.8" cy="454.3" r="2.55" fill="#000"/>
<circle cx="167.5" cy="456" r="2.55" fill="#000"/>
<circle cx="172.9" cy="451.4" r="2.55" fill="#000"/>
<circle cx="175.9" cy="458.2" r="2.55" fill="#000"/>
<circle cx="175.9" cy="462.2" r="2.55" fill="#000"/>
<circle cx="185.5" cy="450.3" r="2.55" fill="#000"/>
<circle cx="190.6" cy="446.7" r="2.55" fill="#000"/>
<circle cx="196.2" cy="450.3" r="2.55" fill="#000"/>
<circle cx="190.3" cy="458.8" r="2.55" fill="#000"/>
<circle cx="200.3" cy="464.6" r="2.55" fill="#000"/>
<circle cx="212.4" cy="457.4" r="2.55" fill="#000"/>
<circle cx="210.7" cy="460.6" r="2.55" fill="#000"/>
<circle cx="210.5" cy="471.7" r="2.55" fill="#000"/>
<circle cx="198" cy="476.6" r="2.55" fill="#000"/>
<circle cx="161.4" cy="472.6" r="2.55" fill="#000"/>
<circle cx="167.3" cy="473.8" r="2.55" fill="#000"/>
<circle cx="159.1" cy="480" r="2.55" fill="#000"/>
<circle cx="163.6" cy="487.2" r="2.55" fill="#000"/>
<circle cx="145.9" cy="394.9" r="2.55" fill="#000"/>
<circle cx="212.9" cy="397.5" r="2.55" fill="#000"/>
<circle cx="183.3" cy="409.9" r="2.55" fill="#000"/>
<circle cx="235.5" cy="438.8" r="2.55" fill="#000"/>
<circle cx="225.2" cy="448.5" r="2.55" fill="#000"/>
<circle cx="222.6" cy="451.7" r="2.55" fill="#000"/>
<circle cx="237.4" cy="462.4" r="2.55" fill="#000"/>
<circle cx="246.2" cy="462.4" r="2.55" fill="#000"/>
<circle cx="221.5" cy="494.1" r="2.55" fill="#000"/>
<circle cx="235.7" cy="490.6" r="2.55" fill="#000"/>
<circle cx="261.2" cy="500.7" r="2.55" fill="#000"/>
<circle cx="230.6" cy="509.7" r="2.55" fill="#000"/>
<circle cx="208" cy="512.3" r="2.55" fill="#000"/>
<circle cx="177.4" cy="497.2" r="2.55" fill="#000"/>
<circle cx="183.3" cy="503.6" r="2.55" fill="#000"/>
<circle cx="171.9" cy="510.4" r="2.55" fill="#000"/>
<circle cx="135.7" cy="461.9" r="2.55" fill="#000"/>
<path d="M147.45 442.5 L149.39 447.73 L154.96 447.96 L150.59 451.42 L152.09 456.79 L147.45 453.7 L142.81 456.79 L144.31 451.42 L139.94 447.96 L145.51 447.73Z" fill="#f00" stroke="#000" stroke-width="0.8" stroke-linejoin="miter"/>
<path d="M58.5 516.5v-1.49M58.5 367.5v1.49M71.5 516.5v-2.98M71.5 367.5v2.98M84.5 516.5v-1.49M84.5 367.5v1.49M97.5 516.5v-1.49M97.5 367.5v1.49M110.5 516.5v-1.49M110.5 367.5v1.49M123.5 516.5v-1.49M123.5 367.5v1.49M136.5 516.5v-2.98M136.5 367.5v2.98M149.5 516.5v-1.49M149.5 367.5v1.49M162.5 516.5v-1.49M162.5 367.5v1.49M175.5 516.5v-1.49M175.5 367.5v1.49M187.5 516.5v-1.49M187.5 367.5v1.49M200.5 516.5v-2.98M200.5 367.5v2.98M213.5 516.5v-1.49M213.5 367.5v1.49M226.5 516.5v-1.49M226.5 367.5v1.49M239.5 516.5v-1.49M239.5 367.5v1.49M252.5 516.5v-1.49M252.5 367.5v1.49M265.5 516.5v-2.98M265.5 367.5v2.98M278.5 516.5v-1.49M278.5 367.5v1.49M291.5 516.5v-1.49M291.5 367.5v1.49M58.5 516.5h4.66M291.5 516.5h-4.66M58.5 511.5h2.33M291.5 511.5h-2.33M58.5 506.5h2.33M291.5 506.5h-2.33M58.5 501.5h2.33M291.5 501.5h-2.33M58.5 496.5h4.66M291.5 496.5h-4.66M58.5 491.5h2.33M291.5 491.5h-2.33M58.5 486.5h2.33M291.5 486.5h-2.33M58.5 481.5h2.33M291.5 481.5h-2.33M58.5 476.5h4.66M291.5 476.5h-4.66M58.5 471.5h2.33M291.5 471.5h-2.33M58.5 466.5h2.33M291.5 466.5h-2.33M58.5 461.5h2.33M291.5 461.5h-2.33M58.5 456.5h4.66M291.5 456.5h-4.66M58.5 451.5h2.33M291.5 451.5h-2.33M58.5 446.5h2.33M291.5 446.5h-2.33M58.5 442.5h2.33M291.5 442.5h-2.33M58.5 437.5h4.66M291.5 437.5h-4.66M58.5 432.5h2.33M291.5 432.5h-2.33M58.5 427.5h2.33M291.5 427.5h-2.33M58.5 422.5h2.33M291.5 422.5h-2.33M58.5 417.5h4.66M291.5 417.5h-4.66M58.5 412.5h2.33M291.5 412.5h-2.33M58.5 407.5h2.33M291.5 407.5h-2.33M58.5 402.5h2.33M291.5 402.5h-2.33M58.5 397.5h4.66M291.5 397.5h-4.66M58.5 392.5h2.33M291.5 392.5h-2.33M58.5 387.5h2.33M291.5 387.5h-2.33M58.5 382.5h2.33M291.5 382.5h-2.33M58.5 377.5h4.66M291.5 377.5h-4.66M58.5 372.5h2.33M291.5 372.5h-2.33M58.5 367.5h2.33M291.5 367.5h-2.33" stroke="#000" stroke-width="1.0" fill="none"/>
<rect x="58.5" y="367.5" width="233" height="149" stroke="#000" stroke-width="1.15" fill="none"/>
<text x="71.44" y="534.7" font-size="15.0" text-anchor="middle">0.5</text>
<text x="136.17" y="534.7" font-size="15.0" text-anchor="middle">1.0</text>
<text x="200.89" y="534.7" font-size="15.0" text-anchor="middle">1.5</text>
<text x="265.61" y="534.7" font-size="15.0" text-anchor="middle">2.0</text>
<text x="54.9" y="515.9" font-size="15.0" text-anchor="end">0</text>
<text x="54.9" y="501.44" font-size="15.0" text-anchor="end">2</text>
<text x="54.9" y="481.58" font-size="15.0" text-anchor="end">4</text>
<text x="54.9" y="461.71" font-size="15.0" text-anchor="end">6</text>
<text x="54.9" y="441.84" font-size="15.0" text-anchor="end">8</text>
<text x="54.9" y="421.98" font-size="15.0" text-anchor="end">10</text>
<text x="54.9" y="402.11" font-size="15.0" text-anchor="end">12</text>
<text x="54.9" y="382.24" font-size="15.0" text-anchor="end">14</text>
<text x="175.3" y="550.5" font-size="14.6" text-anchor="middle">G<tspan font-size="9.2" dy="3">BP</tspan><tspan dy="-3"> - G</tspan><tspan font-size="9.2" dy="3">RP</tspan></text>
<text transform="translate(27.3 442) rotate(-90)" x="0" y="0" font-size="14.6" text-anchor="middle">Rotation Period (d)</text>
<text x="71.3" y="387.8" font-size="13.4">T<tspan font-size="8.2" dy="3">eff</tspan><tspan dy="-3"> = 5003 K</tspan></text>
<g shape-rendering="crispEdges">
<rect x="322.9" y="509.33" width="7.53" height="7.51" fill="rgb(0,0,0)"/>
<rect x="330.38" y="509.33" width="7.53" height="7.51" fill="rgb(0,0,0)"/>
<rect x="337.86" y="509.33" width="7.53" height="7.51" fill="rgb(0,0,0)"/>
<rect x="345.34" y="509.33" width="7.53" height="7.51" fill="rgb(0,0,0)"/>
<rect x="352.82" y="509.33" width="7.53" height="7.51" fill="rgb(0,0,0)"/>
<rect x="360.3" y="509.33" width="7.53" height="7.51" fill="rgb(0,0,0)"/>
<rect x="367.78" y="509.33" width="7.53" height="7.51" fill="rgb(0,0,0)"/>
<rect x="375.26" y="509.33" width="7.53" height="7.51" fill="rgb(20,20,20)"/>
<rect x="382.74" y="509.33" width="7.53" height="7.51" fill="rgb(205,205,205)"/>
<rect x="390.22" y="509.33" width="7.53" height="7.51" fill="rgb(245,245,245)"/>
<rect x="397.7" y="509.33" width="7.53" height="7.51" fill="rgb(248,248,248)"/>
<rect x="405.18" y="509.33" width="7.53" height="7.51" fill="rgb(248,248,248)"/>
<rect x="412.66" y="509.33" width="7.53" height="7.51" fill="rgb(248,248,248)"/>
<rect x="420.14" y="509.33" width="7.53" height="7.51" fill="rgb(235,235,235)"/>
<rect x="427.62" y="509.33" width="7.53" height="7.51" fill="rgb(225,225,225)"/>
<rect x="435.1" y="509.33" width="7.53" height="7.51" fill="rgb(248,248,248)"/>
<rect x="442.58" y="509.33" width="7.53" height="7.51" fill="rgb(248,248,248)"/>
<rect x="450.06" y="509.33" width="7.53" height="7.51" fill="rgb(248,248,248)"/>
<rect x="457.54" y="509.33" width="7.53" height="7.51" fill="rgb(248,248,248)"/>
<rect x="465.02" y="509.33" width="7.53" height="7.51" fill="rgb(248,248,248)"/>
<rect x="322.9" y="501.87" width="7.53" height="7.51" fill="rgb(10,10,10)"/>
<rect x="330.38" y="501.87" width="7.53" height="7.51" fill="rgb(0,0,0)"/>
<rect x="337.86" y="501.87" width="7.53" height="7.51" fill="rgb(0,0,0)"/>
<rect x="345.34" y="501.87" width="7.53" height="7.51" fill="rgb(0,0,0)"/>
<rect x="352.82" y="501.87" width="7.53" height="7.51" fill="rgb(0,0,0)"/>
<rect x="360.3" y="501.87" width="7.53" height="7.51" fill="rgb(0,0,0)"/>
<rect x="367.78" y="501.87" width="7.53" height="7.51" fill="rgb(0,0,0)"/>
<rect x="375.26" y="501.87" width="7.53" height="7.51" fill="rgb(110,110,110)"/>
<rect x="382.74" y="501.87" width="7.53" height="7.51" fill="rgb(212,212,212)"/>
<rect x="390.22" y="501.87" width="7.53" height="7.51" fill="rgb(245,245,245)"/>
<rect x="397.7" y="501.87" width="7.53" height="7.51" fill="rgb(248,248,248)"/>
<rect x="405.18" y="501.87" width="7.53" height="7.51" fill="rgb(248,248,248)"/>
<rect x="412.66" y="501.87" width="7.53" height="7.51" fill="rgb(248,248,248)"/>
<rect x="420.14" y="501.87" width="7.53" height="7.51" fill="rgb(248,248,248)"/>
<rect x="427.62" y="501.87" width="7.53" height="7.51" fill="rgb(248,248,248)"/>
<rect x="435.1" y="501.87" width="7.53" height="7.51" fill="rgb(248,248,248)"/>
<rect x="442.58" y="501.87" width="7.53" height="7.51" fill="rgb(248,248,248)"/>
<rect x="450.06" y="501.87" width="7.53" height="7.51" fill="rgb(248,248,248)"/>
<rect x="457.54" y="501.87" width="7.53" height="7.51" fill="rgb(248,248,248)"/>
<rect x="465.02" y="501.87" width="7.53" height="7.51" fill="rgb(248,248,248)"/>
<rect x="322.9" y="494.4" width="7.53" height="7.51" fill="rgb(160,160,160)"/>
<rect x="330.38" y="494.4" width="7.53" height="7.51" fill="rgb(30,30,30)"/>
<rect x="337.86" y="494.4" width="7.53" height="7.51" fill="rgb(0,0,0)"/>
<rect x="345.34" y="494.4" width="7.53" height="7.51" fill="rgb(0,0,0)"/>
<rect x="352.82" y="494.4" width="7.53" height="7.51" fill="rgb(0,0,0)"/>
<rect x="360.3" y="494.4" width="7.53" height="7.51" fill="rgb(0,0,0)"/>
<rect x="367.78" y="494.4" width="7.53" height="7.51" fill="rgb(65,65,65)"/>
<rect x="375.26" y="494.4" width="7.53" height="7.51" fill="rgb(183,183,183)"/>
<rect x="382.74" y="494.4" width="7.53" height="7.51" fill="rgb(232,232,232)"/>
<rect x="390.22" y="494.4" width="7.53" height="7.51" fill="rgb(245,245,245)"/>
<rect x="397.7" y="494.4" width="7.53" height="7.51" fill="rgb(248,248,248)"/>
<rect x="405.18" y="494.4" width="7.53" height="7.51" fill="rgb(248,248,248)"/>
<rect x="412.66" y="494.4" width="7.53" height="7.51" fill="rgb(248,248,248)"/>
<rect x="420.14" y="494.4" width="7.53" height="7.51" fill="rgb(248,248,248)"/>
<rect x="427.62" y="494.4" width="7.53" height="7.51" fill="rgb(248,248,248)"/>
<rect x="435.1" y="494.4" width="7.53" height="7.51" fill="rgb(248,248,248)"/>
<rect x="442.58" y="494.4" width="7.53" height="7.51" fill="rgb(248,248,248)"/>
<rect x="450.06" y="494.4" width="7.53" height="7.51" fill="rgb(248,248,248)"/>
<rect x="457.54" y="494.4" width="7.53" height="7.51" fill="rgb(248,248,248)"/>
<rect x="465.02" y="494.4" width="7.53" height="7.51" fill="rgb(248,248,248)"/>
<rect x="322.9" y="486.94" width="7.53" height="7.51" fill="rgb(225,225,225)"/>
<rect x="330.38" y="486.94" width="7.53" height="7.51" fill="rgb(160,160,160)"/>
<rect x="337.86" y="486.94" width="7.53" height="7.51" fill="rgb(110,110,110)"/>
<rect x="345.34" y="486.94" width="7.53" height="7.51" fill="rgb(95,95,95)"/>
<rect x="352.82" y="486.94" width="7.53" height="7.51" fill="rgb(95,95,95)"/>
<rect x="360.3" y="486.94" width="7.53" height="7.51" fill="rgb(95,95,95)"/>
<rect x="367.78" y="486.94" width="7.53" height="7.51" fill="rgb(160,160,160)"/>
<rect x="375.26" y="486.94" width="7.53" height="7.51" fill="rgb(218,218,218)"/>
<rect x="382.74" y="486.94" width="7.53" height="7.51" fill="rgb(242,242,242)"/>
<rect x="390.22" y="486.94" width="7.53" height="7.51" fill="rgb(248,248,248)"/>
<rect x="397.7" y="486.94" width="7.53" height="7.51" fill="rgb(248,248,248)"/>
<rect x="405.18" y="486.94" width="7.53" height="7.51" fill="rgb(248,248,248)"/>
<rect x="412.66" y="486.94" width="7.53" height="7.51" fill="rgb(248,248,248)"/>
<rect x="420.14" y="486.94" width="7.53" height="7.51" fill="rgb(248,248,248)"/>
<rect x="427.62" y="486.94" width="7.53" height="7.51" fill="rgb(248,248,248)"/>
<rect x="435.1" y="486.94" width="7.53" height="7.51" fill="rgb(248,248,248)"/>
<rect x="442.58" y="486.94" width="7.53" height="7.51" fill="rgb(248,248,248)"/>
<rect x="450.06" y="486.94" width="7.53" height="7.51" fill="rgb(248,248,248)"/>
<rect x="457.54" y="486.94" width="7.53" height="7.51" fill="rgb(248,248,248)"/>
<rect x="465.02" y="486.94" width="7.53" height="7.51" fill="rgb(248,248,248)"/>
<rect x="322.9" y="479.47" width="7.53" height="7.51" fill="rgb(245,245,245)"/>
<rect x="330.38" y="479.47" width="7.53" height="7.51" fill="rgb(235,235,235)"/>
<rect x="337.86" y="479.47" width="7.53" height="7.51" fill="rgb(210,210,210)"/>
<rect x="345.34" y="479.47" width="7.53" height="7.51" fill="rgb(160,160,160)"/>
<rect x="352.82" y="479.47" width="7.53" height="7.51" fill="rgb(20,20,20)"/>
<rect x="360.3" y="479.47" width="7.53" height="7.51" fill="rgb(0,0,0)"/>
<rect x="367.78" y="479.47" width="7.53" height="7.51" fill="rgb(155,155,155)"/>
<rect x="375.26" y="479.47" width="7.53" height="7.51" fill="rgb(225,225,225)"/>
<rect x="382.74" y="479.47" width="7.53" height="7.51" fill="rgb(245,245,245)"/>
<rect x="390.22" y="479.47" width="7.53" height="7.51" fill="rgb(248,248,248)"/>
<rect x="397.7" y="479.47" width="7.53" height="7.51" fill="rgb(248,248,248)"/>
<rect x="405.18" y="479.47" width="7.53" height="7.51" fill="rgb(248,248,248)"/>
<rect x="412.66" y="479.47" width="7.53" height="7.51" fill="rgb(240,240,240)"/>
<rect x="420.14" y="479.47" width="7.53" height="7.51" fill="rgb(240,240,240)"/>
<rect x="427.62" y="479.47" width="7.53" height="7.51" fill="rgb(248,248,248)"/>
<rect x="435.1" y="479.47" width="7.53" height="7.51" fill="rgb(248,248,248)"/>
<rect x="442.58" y="479.47" width="7.53" height="7.51" fill="rgb(248,248,248)"/>
<rect x="450.06" y="479.47" width="7.53" height="7.51" fill="rgb(248,248,248)"/>
<rect x="457.54" y="479.47" width="7.53" height="7.51" fill="rgb(248,248,248)"/>
<rect x="465.02" y="479.47" width="7.53" height="7.51" fill="rgb(248,248,248)"/>
<rect x="322.9" y="472.01" width="7.53" height="7.51" fill="rgb(248,248,248)"/>
<rect x="330.38" y="472.01" width="7.53" height="7.51" fill="rgb(240,240,240)"/>
<rect x="337.86" y="472.01" width="7.53" height="7.51" fill="rgb(225,225,225)"/>
<rect x="345.34" y="472.01" width="7.53" height="7.51" fill="rgb(110,110,110)"/>
<rect x="352.82" y="472.01" width="7.53" height="7.51" fill="rgb(0,0,0)"/>
<rect x="360.3" y="472.01" width="7.53" height="7.51" fill="rgb(0,0,0)"/>
<rect x="367.78" y="472.01" width="7.53" height="7.51" fill="rgb(100,100,100)"/>
<rect x="375.26" y="472.01" width="7.53" height="7.51" fill="rgb(215,215,215)"/>
<rect x="382.74" y="472.01" width="7.53" height="7.51" fill="rgb(245,245,245)"/>
<rect x="390.22" y="472.01" width="7.53" height="7.51" fill="rgb(248,248,248)"/>
<rect x="397.7" y="472.01" width="7.53" height="7.51" fill="rgb(248,248,248)"/>
<rect x="405.18" y="472.01" width="7.53" height="7.51" fill="rgb(248,248,248)"/>
<rect x="412.66" y="472.01" width="7.53" height="7.51" fill="rgb(248,248,248)"/>
<rect x="420.14" y="472.01" width="7.53" height="7.51" fill="rgb(248,248,248)"/>
<rect x="427.62" y="472.01" width="7.53" height="7.51" fill="rgb(248,248,248)"/>
<rect x="435.1" y="472.01" width="7.53" height="7.51" fill="rgb(248,248,248)"/>
<rect x="442.58" y="472.01" width="7.53" height="7.51" fill="rgb(248,248,248)"/>
<rect x="450.06" y="472.01" width="7.53" height="7.51" fill="rgb(248,248,248)"/>
<rect x="457.54" y="472.01" width="7.53" height="7.51" fill="rgb(248,248,248)"/>
<rect x="465.02" y="472.01" width="7.53" height="7.51" fill="rgb(248,248,248)"/>
<rect x="322.9" y="464.54" width="7.53" height="7.51" fill="rgb(248,248,248)"/>
<rect x="330.38" y="464.54" width="7.53" height="7.51" fill="rgb(240,240,240)"/>
<rect x="337.86" y="464.54" width="7.53" height="7.51" fill="rgb(225,225,225)"/>
<rect x="345.34" y="464.54" width="7.53" height="7.51" fill="rgb(120,120,120)"/>
<rect x="352.82" y="464.54" width="7.53" height="7.51" fill="rgb(0,0,0)"/>
<rect x="360.3" y="464.54" width="7.53" height="7.51" fill="rgb(0,0,0)"/>
<rect x="367.78" y="464.54" width="7.53" height="7.51" fill="rgb(130,130,130)"/>
<rect x="375.26" y="464.54" width="7.53" height="7.51" fill="rgb(225,225,225)"/>
<rect x="382.74" y="464.54" width="7.53" height="7.51" fill="rgb(245,245,245)"/>
<rect x="390.22" y="464.54" width="7.53" height="7.51" fill="rgb(248,248,248)"/>
<rect x="397.7" y="464.54" width="7.53" height="7.51" fill="rgb(248,248,248)"/>
<rect x="405.18" y="464.54" width="7.53" height="7.51" fill="rgb(248,248,248)"/>
<rect x="412.66" y="464.54" width="7.53" height="7.51" fill="rgb(248,248,248)"/>
<rect x="420.14" y="464.54" width="7.53" height="7.51" fill="rgb(248,248,248)"/>
<rect x="427.62" y="464.54" width="7.53" height="7.51" fill="rgb(248,248,248)"/>
<rect x="435.1" y="464.54" width="7.53" height="7.51" fill="rgb(248,248,248)"/>
<rect x="442.58" y="464.54" width="7.53" height="7.51" fill="rgb(248,248,248)"/>
<rect x="450.06" y="464.54" width="7.53" height="7.51" fill="rgb(248,248,248)"/>
<rect x="457.54" y="464.54" width="7.53" height="7.51" fill="rgb(248,248,248)"/>
<rect x="465.02" y="464.54" width="7.53" height="7.51" fill="rgb(248,248,248)"/>
<rect x="322.9" y="457.08" width="7.53" height="7.51" fill="rgb(248,248,248)"/>
<rect x="330.38" y="457.08" width="7.53" height="7.51" fill="rgb(235,235,235)"/>
<rect x="337.86" y="457.08" width="7.53" height="7.51" fill="rgb(225,225,225)"/>
<rect x="345.34" y="457.08" width="7.53" height="7.51" fill="rgb(205,205,205)"/>
<rect x="352.82" y="457.08" width="7.53" height="7.51" fill="rgb(180,180,180)"/>
<rect x="360.3" y="457.08" width="7.53" height="7.51" fill="rgb(185,185,185)"/>
<rect x="367.78" y="457.08" width="7.53" height="7.51" fill="rgb(215,215,215)"/>
<rect x="375.26" y="457.08" width="7.53" height="7.51" fill="rgb(240,240,240)"/>
<rect x="382.74" y="457.08" width="7.53" height="7.51" fill="rgb(245,245,245)"/>
<rect x="390.22" y="457.08" width="7.53" height="7.51" fill="rgb(248,248,248)"/>
<rect x="397.7" y="457.08" width="7.53" height="7.51" fill="rgb(240,240,240)"/>
<rect x="405.18" y="457.08" width="7.53" height="7.51" fill="rgb(245,245,245)"/>
<rect x="412.66" y="457.08" width="7.53" height="7.51" fill="rgb(248,248,248)"/>
<rect x="420.14" y="457.08" width="7.53" height="7.51" fill="rgb(248,248,248)"/>
<rect x="427.62" y="457.08" width="7.53" height="7.51" fill="rgb(248,248,248)"/>
<rect x="435.1" y="457.08" width="7.53" height="7.51" fill="rgb(248,248,248)"/>
<rect x="442.58" y="457.08" width="7.53" height="7.51" fill="rgb(248,248,248)"/>
<rect x="450.06" y="457.08" width="7.53" height="7.51" fill="rgb(248,248,248)"/>
<rect x="457.54" y="457.08" width="7.53" height="7.51" fill="rgb(248,248,248)"/>
<rect x="465.02" y="457.08" width="7.53" height="7.51" fill="rgb(248,248,248)"/>
<rect x="322.9" y="449.61" width="7.53" height="7.51" fill="rgb(250,250,250)"/>
<rect x="330.38" y="449.61" width="7.53" height="7.51" fill="rgb(210,210,210)"/>
<rect x="337.86" y="449.61" width="7.53" height="7.51" fill="rgb(210,210,210)"/>
<rect x="345.34" y="449.61" width="7.53" height="7.51" fill="rgb(240,240,240)"/>
<rect x="352.82" y="449.61" width="7.53" height="7.51" fill="rgb(240,240,240)"/>
<rect x="360.3" y="449.61" width="7.53" height="7.51" fill="rgb(240,240,240)"/>
<rect x="367.78" y="449.61" width="7.53" height="7.51" fill="rgb(240,240,240)"/>
<rect x="375.26" y="449.61" width="7.53" height="7.51" fill="rgb(245,245,245)"/>
<rect x="382.74" y="449.61" width="7.53" height="7.51" fill="rgb(225,225,225)"/>
<rect x="390.22" y="449.61" width="7.53" height="7.51" fill="rgb(185,185,185)"/>
<rect x="397.7" y="449.61" width="7.53" height="7.51" fill="rgb(100,100,100)"/>
<rect x="405.18" y="449.61" width="7.53" height="7.51" fill="rgb(130,130,130)"/>
<rect x="412.66" y="449.61" width="7.53" height="7.51" fill="rgb(215,215,215)"/>
<rect x="420.14" y="449.61" width="7.53" height="7.51" fill="rgb(245,245,245)"/>
<rect x="427.62" y="449.61" width="7.53" height="7.51" fill="rgb(248,248,248)"/>
<rect x="435.1" y="449.61" width="7.53" height="7.51" fill="rgb(248,248,248)"/>
<rect x="442.58" y="449.61" width="7.53" height="7.51" fill="rgb(248,248,248)"/>
<rect x="450.06" y="449.61" width="7.53" height="7.51" fill="rgb(248,248,248)"/>
<rect x="457.54" y="449.61" width="7.53" height="7.51" fill="rgb(248,248,248)"/>
<rect x="465.02" y="449.61" width="7.53" height="7.51" fill="rgb(248,248,248)"/>
<rect x="322.9" y="442.15" width="7.53" height="7.51" fill="rgb(250,250,250)"/>
<rect x="330.38" y="442.15" width="7.53" height="7.51" fill="rgb(235,235,235)"/>
<rect x="337.86" y="442.15" width="7.53" height="7.51" fill="rgb(235,235,235)"/>
<rect x="345.34" y="442.15" width="7.53" height="7.51" fill="rgb(245,245,245)"/>
<rect x="352.82" y="442.15" width="7.53" height="7.51" fill="rgb(245,245,245)"/>
<rect x="360.3" y="442.15" width="7.53" height="7.51" fill="rgb(248,248,248)"/>
<rect x="367.78" y="442.15" width="7.53" height="7.51" fill="rgb(245,245,245)"/>
<rect x="375.26" y="442.15" width="7.53" height="7.51" fill="rgb(248,248,248)"/>
<rect x="382.74" y="442.15" width="7.53" height="7.51" fill="rgb(150,150,150)"/>
<rect x="390.22" y="442.15" width="7.53" height="7.51" fill="rgb(0,0,0)"/>
<rect x="397.7" y="442.15" width="7.53" height="7.51" fill="rgb(0,0,0)"/>
<rect x="405.18" y="442.15" width="7.53" height="7.51" fill="rgb(0,0,0)"/>
<rect x="412.66" y="442.15" width="7.53" height="7.51" fill="rgb(135,135,135)"/>
<rect x="420.14" y="442.15" width="7.53" height="7.51" fill="rgb(245,245,245)"/>
<rect x="427.62" y="442.15" width="7.53" height="7.51" fill="rgb(248,248,248)"/>
<rect x="435.1" y="442.15" width="7.53" height="7.51" fill="rgb(248,248,248)"/>
<rect x="442.58" y="442.15" width="7.53" height="7.51" fill="rgb(248,248,248)"/>
<rect x="450.06" y="442.15" width="7.53" height="7.51" fill="rgb(248,248,248)"/>
<rect x="457.54" y="442.15" width="7.53" height="7.51" fill="rgb(248,248,248)"/>
<rect x="465.02" y="442.15" width="7.53" height="7.51" fill="rgb(248,248,248)"/>
<rect x="322.9" y="434.68" width="7.53" height="7.51" fill="rgb(250,250,250)"/>
<rect x="330.38" y="434.68" width="7.53" height="7.51" fill="rgb(250,250,250)"/>
<rect x="337.86" y="434.68" width="7.53" height="7.51" fill="rgb(250,250,250)"/>
<rect x="345.34" y="434.68" width="7.53" height="7.51" fill="rgb(250,250,250)"/>
<rect x="352.82" y="434.68" width="7.53" height="7.51" fill="rgb(250,250,250)"/>
<rect x="360.3" y="434.68" width="7.53" height="7.51" fill="rgb(250,250,250)"/>
<rect x="367.78" y="434.68" width="7.53" height="7.51" fill="rgb(245,245,245)"/>
<rect x="375.26" y="434.68" width="7.53" height="7.51" fill="rgb(230,230,230)"/>
<rect x="382.74" y="434.68" width="7.53" height="7.51" fill="rgb(50,50,50)"/>
<rect x="390.22" y="434.68" width="7.53" height="7.51" fill="rgb(0,0,0)"/>
<rect x="397.7" y="434.68" width="7.53" height="7.51" fill="rgb(0,0,0)"/>
<rect x="405.18" y="434.68" width="7.53" height="7.51" fill="rgb(0,0,0)"/>
<rect x="412.66" y="434.68" width="7.53" height="7.51" fill="rgb(60,60,60)"/>
<rect x="420.14" y="434.68" width="7.53" height="7.51" fill="rgb(240,240,240)"/>
<rect x="427.62" y="434.68" width="7.53" height="7.51" fill="rgb(245,245,245)"/>
<rect x="435.1" y="434.68" width="7.53" height="7.51" fill="rgb(245,245,245)"/>
<rect x="442.58" y="434.68" width="7.53" height="7.51" fill="rgb(245,245,245)"/>
<rect x="450.06" y="434.68" width="7.53" height="7.51" fill="rgb(240,240,240)"/>
<rect x="457.54" y="434.68" width="7.53" height="7.51" fill="rgb(235,235,235)"/>
<rect x="465.02" y="434.68" width="7.53" height="7.51" fill="rgb(240,240,240)"/>
<rect x="322.9" y="427.22" width="7.53" height="7.51" fill="rgb(250,250,250)"/>
<rect x="330.38" y="427.22" width="7.53" height="7.51" fill="rgb(250,250,250)"/>
<rect x="337.86" y="427.22" width="7.53" height="7.51" fill="rgb(250,250,250)"/>
<rect x="345.34" y="427.22" width="7.53" height="7.51" fill="rgb(250,250,250)"/>
<rect x="352.82" y="427.22" width="7.53" height="7.51" fill="rgb(250,250,250)"/>
<rect x="360.3" y="427.22" width="7.53" height="7.51" fill="rgb(250,250,250)"/>
<rect x="367.78" y="427.22" width="7.53" height="7.51" fill="rgb(245,245,245)"/>
<rect x="375.26" y="427.22" width="7.53" height="7.51" fill="rgb(225,225,225)"/>
<rect x="382.74" y="427.22" width="7.53" height="7.51" fill="rgb(55,55,55)"/>
<rect x="390.22" y="427.22" width="7.53" height="7.51" fill="rgb(0,0,0)"/>
<rect x="397.7" y="427.22" width="7.53" height="7.51" fill="rgb(0,0,0)"/>
<rect x="405.18" y="427.22" width="7.53" height="7.51" fill="rgb(0,0,0)"/>
<rect x="412.66" y="427.22" width="7.53" height="7.51" fill="rgb(130,130,130)"/>
<rect x="420.14" y="427.22" width="7.53" height="7.51" fill="rgb(240,240,240)"/>
<rect x="427.62" y="427.22" width="7.53" height="7.51" fill="rgb(245,245,245)"/>
<rect x="435.1" y="427.22" width="7.53" height="7.51" fill="rgb(245,245,245)"/>
<rect x="442.58" y="427.22" width="7.53" height="7.51" fill="rgb(235,235,235)"/>
<rect x="450.06" y="427.22" width="7.53" height="7.51" fill="rgb(230,230,230)"/>
<rect x="457.54" y="427.22" width="7.53" height="7.51" fill="rgb(190,190,190)"/>
<rect x="465.02" y="427.22" width="7.53" height="7.51" fill="rgb(200,200,200)"/>
<rect x="322.9" y="419.75" width="7.53" height="7.51" fill="rgb(250,250,250)"/>
<rect x="330.38" y="419.75" width="7.53" height="7.51" fill="rgb(250,250,250)"/>
<rect x="337.86" y="419.75" width="7.53" height="7.51" fill="rgb(250,250,250)"/>
<rect x="345.34" y="419.75" width="7.53" height="7.51" fill="rgb(250,250,250)"/>
<rect x="352.82" y="419.75" width="7.53" height="7.51" fill="rgb(250,250,250)"/>
<rect x="360.3" y="419.75" width="7.53" height="7.51" fill="rgb(250,250,250)"/>
<rect x="367.78" y="419.75" width="7.53" height="7.51" fill="rgb(245,245,245)"/>
<rect x="375.26" y="419.75" width="7.53" height="7.51" fill="rgb(215,215,215)"/>
<rect x="382.74" y="419.75" width="7.53" height="7.51" fill="rgb(140,140,140)"/>
<rect x="390.22" y="419.75" width="7.53" height="7.51" fill="rgb(70,70,70)"/>
<rect x="397.7" y="419.75" width="7.53" height="7.51" fill="rgb(65,65,65)"/>
<rect x="405.18" y="419.75" width="7.53" height="7.51" fill="rgb(130,130,130)"/>
<rect x="412.66" y="419.75" width="7.53" height="7.51" fill="rgb(220,220,220)"/>
<rect x="420.14" y="419.75" width="7.53" height="7.51" fill="rgb(240,240,240)"/>
<rect x="427.62" y="419.75" width="7.53" height="7.51" fill="rgb(240,240,240)"/>
<rect x="435.1" y="419.75" width="7.53" height="7.51" fill="rgb(240,240,240)"/>
<rect x="442.58" y="419.75" width="7.53" height="7.51" fill="rgb(215,215,215)"/>
<rect x="450.06" y="419.75" width="7.53" height="7.51" fill="rgb(0,0,0)"/>
<rect x="457.54" y="419.75" width="7.53" height="7.51" fill="rgb(0,0,0)"/>
<rect x="465.02" y="419.75" width="7.53" height="7.51" fill="rgb(70,70,70)"/>
<rect x="322.9" y="412.29" width="7.53" height="7.51" fill="rgb(250,250,250)"/>
<rect x="330.38" y="412.29" width="7.53" height="7.51" fill="rgb(250,250,250)"/>
<rect x="337.86" y="412.29" width="7.53" height="7.51" fill="rgb(250,250,250)"/>
<rect x="345.34" y="412.29" width="7.53" height="7.51" fill="rgb(250,250,250)"/>
<rect x="352.82" y="412.29" width="7.53" height="7.51" fill="rgb(250,250,250)"/>
<rect x="360.3" y="412.29" width="7.53" height="7.51" fill="rgb(250,250,250)"/>
<rect x="367.78" y="412.29" width="7.53" height="7.51" fill="rgb(240,240,240)"/>
<rect x="375.26" y="412.29" width="7.53" height="7.51" fill="rgb(225,225,225)"/>
<rect x="382.74" y="412.29" width="7.53" height="7.51" fill="rgb(215,215,215)"/>
<rect x="390.22" y="412.29" width="7.53" height="7.51" fill="rgb(220,220,220)"/>
<rect x="397.7" y="412.29" width="7.53" height="7.51" fill="rgb(235,235,235)"/>
<rect x="405.18" y="412.29" width="7.53" height="7.51" fill="rgb(240,240,240)"/>
<rect x="412.66" y="412.29" width="7.53" height="7.51" fill="rgb(240,240,240)"/>
<rect x="420.14" y="412.29" width="7.53" height="7.51" fill="rgb(245,245,245)"/>
<rect x="427.62" y="412.29" width="7.53" height="7.51" fill="rgb(240,240,240)"/>
<rect x="435.1" y="412.29" width="7.53" height="7.51" fill="rgb(240,240,240)"/>
<rect x="442.58" y="412.29" width="7.53" height="7.51" fill="rgb(140,140,140)"/>
<rect x="450.06" y="412.29" width="7.53" height="7.51" fill="rgb(0,0,0)"/>
<rect x="457.54" y="412.29" width="7.53" height="7.51" fill="rgb(0,0,0)"/>
<rect x="465.02" y="412.29" width="7.53" height="7.51" fill="rgb(10,10,10)"/>
<rect x="322.9" y="404.82" width="7.53" height="7.51" fill="rgb(250,250,250)"/>
<rect x="330.38" y="404.82" width="7.53" height="7.51" fill="rgb(250,250,250)"/>
<rect x="337.86" y="404.82" width="7.53" height="7.51" fill="rgb(250,250,250)"/>
<rect x="345.34" y="404.82" width="7.53" height="7.51" fill="rgb(250,250,250)"/>
<rect x="352.82" y="404.82" width="7.53" height="7.51" fill="rgb(250,250,250)"/>
<rect x="360.3" y="404.82" width="7.53" height="7.51" fill="rgb(250,250,250)"/>
<rect x="367.78" y="404.82" width="7.53" height="7.51" fill="rgb(245,245,245)"/>
<rect x="375.26" y="404.82" width="7.53" height="7.51" fill="rgb(240,240,240)"/>
<rect x="382.74" y="404.82" width="7.53" height="7.51" fill="rgb(235,235,235)"/>
<rect x="390.22" y="404.82" width="7.53" height="7.51" fill="rgb(235,235,235)"/>
<rect x="397.7" y="404.82" width="7.53" height="7.51" fill="rgb(245,245,245)"/>
<rect x="405.18" y="404.82" width="7.53" height="7.51" fill="rgb(245,245,245)"/>
<rect x="412.66" y="404.82" width="7.53" height="7.51" fill="rgb(245,245,245)"/>
<rect x="420.14" y="404.82" width="7.53" height="7.51" fill="rgb(245,245,245)"/>
<rect x="427.62" y="404.82" width="7.53" height="7.51" fill="rgb(240,240,240)"/>
<rect x="435.1" y="404.82" width="7.53" height="7.51" fill="rgb(235,235,235)"/>
<rect x="442.58" y="404.82" width="7.53" height="7.51" fill="rgb(175,175,175)"/>
<rect x="450.06" y="404.82" width="7.53" height="7.51" fill="rgb(0,0,0)"/>
<rect x="457.54" y="404.82" width="7.53" height="7.51" fill="rgb(0,0,0)"/>
<rect x="465.02" y="404.82" width="7.53" height="7.51" fill="rgb(110,110,110)"/>
<rect x="322.9" y="397.36" width="7.53" height="7.51" fill="rgb(250,250,250)"/>
<rect x="330.38" y="397.36" width="7.53" height="7.51" fill="rgb(250,250,250)"/>
<rect x="337.86" y="397.36" width="7.53" height="7.51" fill="rgb(250,250,250)"/>
<rect x="345.34" y="397.36" width="7.53" height="7.51" fill="rgb(245,245,245)"/>
<rect x="352.82" y="397.36" width="7.53" height="7.51" fill="rgb(250,250,250)"/>
<rect x="360.3" y="397.36" width="7.53" height="7.51" fill="rgb(250,250,250)"/>
<rect x="367.78" y="397.36" width="7.53" height="7.51" fill="rgb(250,250,250)"/>
<rect x="375.26" y="397.36" width="7.53" height="7.51" fill="rgb(250,250,250)"/>
<rect x="382.74" y="397.36" width="7.53" height="7.51" fill="rgb(250,250,250)"/>
<rect x="390.22" y="397.36" width="7.53" height="7.51" fill="rgb(245,245,245)"/>
<rect x="397.7" y="397.36" width="7.53" height="7.51" fill="rgb(248,248,248)"/>
<rect x="405.18" y="397.36" width="7.53" height="7.51" fill="rgb(248,248,248)"/>
<rect x="412.66" y="397.36" width="7.53" height="7.51" fill="rgb(248,248,248)"/>
<rect x="420.14" y="397.36" width="7.53" height="7.51" fill="rgb(245,245,245)"/>
<rect x="427.62" y="397.36" width="7.53" height="7.51" fill="rgb(245,245,245)"/>
<rect x="435.1" y="397.36" width="7.53" height="7.51" fill="rgb(240,240,240)"/>
<rect x="442.58" y="397.36" width="7.53" height="7.51" fill="rgb(215,215,215)"/>
<rect x="450.06" y="397.36" width="7.53" height="7.51" fill="rgb(200,200,200)"/>
<rect x="457.54" y="397.36" width="7.53" height="7.51" fill="rgb(205,205,205)"/>
<rect x="465.02" y="397.36" width="7.53" height="7.51" fill="rgb(230,230,230)"/>
<rect x="322.9" y="389.89" width="7.53" height="7.51" fill="rgb(250,250,250)"/>
<rect x="330.38" y="389.89" width="7.53" height="7.51" fill="rgb(250,250,250)"/>
<rect x="337.86" y="389.89" width="7.53" height="7.51" fill="rgb(250,250,250)"/>
<rect x="345.34" y="389.89" width="7.53" height="7.51" fill="rgb(245,245,245)"/>
<rect x="352.82" y="389.89" width="7.53" height="7.51" fill="rgb(250,250,250)"/>
<rect x="360.3" y="389.89" width="7.53" height="7.51" fill="rgb(250,250,250)"/>
<rect x="367.78" y="389.89" width="7.53" height="7.51" fill="rgb(250,250,250)"/>
<rect x="375.26" y="389.89" width="7.53" height="7.51" fill="rgb(250,250,250)"/>
<rect x="382.74" y="389.89" width="7.53" height="7.51" fill="rgb(250,250,250)"/>
<rect x="390.22" y="389.89" width="7.53" height="7.51" fill="rgb(250,250,250)"/>
<rect x="397.7" y="389.89" width="7.53" height="7.51" fill="rgb(250,250,250)"/>
<rect x="405.18" y="389.89" width="7.53" height="7.51" fill="rgb(250,250,250)"/>
<rect x="412.66" y="389.89" width="7.53" height="7.51" fill="rgb(250,250,250)"/>
<rect x="420.14" y="389.89" width="7.53" height="7.51" fill="rgb(250,250,250)"/>
<rect x="427.62" y="389.89" width="7.53" height="7.51" fill="rgb(250,250,250)"/>
<rect x="435.1" y="389.89" width="7.53" height="7.51" fill="rgb(245,245,245)"/>
<rect x="442.58" y="389.89" width="7.53" height="7.51" fill="rgb(240,240,240)"/>
<rect x="450.06" y="389.89" width="7.53" height="7.51" fill="rgb(245,245,245)"/>
<rect x="457.54" y="389.89" width="7.53" height="7.51" fill="rgb(245,245,245)"/>
<rect x="465.02" y="389.89" width="7.53" height="7.51" fill="rgb(240,240,240)"/>
<rect x="322.9" y="382.43" width="7.53" height="7.51" fill="rgb(250,250,250)"/>
<rect x="330.38" y="382.43" width="7.53" height="7.51" fill="rgb(250,250,250)"/>
<rect x="337.86" y="382.43" width="7.53" height="7.51" fill="rgb(250,250,250)"/>
<rect x="345.34" y="382.43" width="7.53" height="7.51" fill="rgb(250,250,250)"/>
<rect x="352.82" y="382.43" width="7.53" height="7.51" fill="rgb(250,250,250)"/>
<rect x="360.3" y="382.43" width="7.53" height="7.51" fill="rgb(250,250,250)"/>
<rect x="367.78" y="382.43" width="7.53" height="7.51" fill="rgb(250,250,250)"/>
<rect x="375.26" y="382.43" width="7.53" height="7.51" fill="rgb(240,240,240)"/>
<rect x="382.74" y="382.43" width="7.53" height="7.51" fill="rgb(240,240,240)"/>
<rect x="390.22" y="382.43" width="7.53" height="7.51" fill="rgb(250,250,250)"/>
<rect x="397.7" y="382.43" width="7.53" height="7.51" fill="rgb(248,248,248)"/>
<rect x="405.18" y="382.43" width="7.53" height="7.51" fill="rgb(250,250,250)"/>
<rect x="412.66" y="382.43" width="7.53" height="7.51" fill="rgb(250,250,250)"/>
<rect x="420.14" y="382.43" width="7.53" height="7.51" fill="rgb(250,250,250)"/>
<rect x="427.62" y="382.43" width="7.53" height="7.51" fill="rgb(248,248,248)"/>
<rect x="435.1" y="382.43" width="7.53" height="7.51" fill="rgb(245,245,245)"/>
<rect x="442.58" y="382.43" width="7.53" height="7.51" fill="rgb(225,225,225)"/>
<rect x="450.06" y="382.43" width="7.53" height="7.51" fill="rgb(220,220,220)"/>
<rect x="457.54" y="382.43" width="7.53" height="7.51" fill="rgb(240,240,240)"/>
<rect x="465.02" y="382.43" width="7.53" height="7.51" fill="rgb(248,248,248)"/>
<rect x="322.9" y="374.97" width="7.53" height="7.51" fill="rgb(248,248,248)"/>
<rect x="330.38" y="374.97" width="7.53" height="7.51" fill="rgb(248,248,248)"/>
<rect x="337.86" y="374.97" width="7.53" height="7.51" fill="rgb(248,248,248)"/>
<rect x="345.34" y="374.97" width="7.53" height="7.51" fill="rgb(248,248,248)"/>
<rect x="352.82" y="374.97" width="7.53" height="7.51" fill="rgb(230,230,230)"/>
<rect x="360.3" y="374.97" width="7.53" height="7.51" fill="rgb(230,230,230)"/>
<rect x="367.78" y="374.97" width="7.53" height="7.51" fill="rgb(248,248,248)"/>
<rect x="375.26" y="374.97" width="7.53" height="7.51" fill="rgb(245,245,245)"/>
<rect x="382.74" y="374.97" width="7.53" height="7.51" fill="rgb(248,248,248)"/>
<rect x="390.22" y="374.97" width="7.53" height="7.51" fill="rgb(248,248,248)"/>
<rect x="397.7" y="374.97" width="7.53" height="7.51" fill="rgb(245,245,245)"/>
<rect x="405.18" y="374.97" width="7.53" height="7.51" fill="rgb(248,248,248)"/>
<rect x="412.66" y="374.97" width="7.53" height="7.51" fill="rgb(250,250,250)"/>
<rect x="420.14" y="374.97" width="7.53" height="7.51" fill="rgb(250,250,250)"/>
<rect x="427.62" y="374.97" width="7.53" height="7.51" fill="rgb(248,248,248)"/>
<rect x="435.1" y="374.97" width="7.53" height="7.51" fill="rgb(248,248,248)"/>
<rect x="442.58" y="374.97" width="7.53" height="7.51" fill="rgb(240,240,240)"/>
<rect x="450.06" y="374.97" width="7.53" height="7.51" fill="rgb(235,235,235)"/>
<rect x="457.54" y="374.97" width="7.53" height="7.51" fill="rgb(245,245,245)"/>
<rect x="465.02" y="374.97" width="7.53" height="7.51" fill="rgb(248,248,248)"/>
<rect x="322.9" y="367.5" width="7.53" height="7.51" fill="rgb(248,248,248)"/>
<rect x="330.38" y="367.5" width="7.53" height="7.51" fill="rgb(245,245,245)"/>
<rect x="337.86" y="367.5" width="7.53" height="7.51" fill="rgb(245,245,245)"/>
<rect x="345.34" y="367.5" width="7.53" height="7.51" fill="rgb(248,248,248)"/>
<rect x="352.82" y="367.5" width="7.53" height="7.51" fill="rgb(240,240,240)"/>
<rect x="360.3" y="367.5" width="7.53" height="7.51" fill="rgb(240,240,240)"/>
<rect x="367.78" y="367.5" width="7.53" height="7.51" fill="rgb(248,248,248)"/>
<rect x="375.26" y="367.5" width="7.53" height="7.51" fill="rgb(248,248,248)"/>
<rect x="382.74" y="367.5" width="7.53" height="7.51" fill="rgb(245,245,245)"/>
<rect x="390.22" y="367.5" width="7.53" height="7.51" fill="rgb(245,245,245)"/>
<rect x="397.7" y="367.5" width="7.53" height="7.51" fill="rgb(240,240,240)"/>
<rect x="405.18" y="367.5" width="7.53" height="7.51" fill="rgb(240,240,240)"/>
<rect x="412.66" y="367.5" width="7.53" height="7.51" fill="rgb(240,240,240)"/>
<rect x="420.14" y="367.5" width="7.53" height="7.51" fill="rgb(235,235,235)"/>
<rect x="427.62" y="367.5" width="7.53" height="7.51" fill="rgb(245,245,245)"/>
<rect x="435.1" y="367.5" width="7.53" height="7.51" fill="rgb(248,248,248)"/>
<rect x="442.58" y="367.5" width="7.53" height="7.51" fill="rgb(245,245,245)"/>
<rect x="450.06" y="367.5" width="7.53" height="7.51" fill="rgb(245,245,245)"/>
<rect x="457.54" y="367.5" width="7.53" height="7.51" fill="rgb(245,245,245)"/>
<rect x="465.02" y="367.5" width="7.53" height="7.51" fill="rgb(245,245,245)"/>
</g>
<circle cx="400.8" cy="437.8" r="22.4" fill="none" stroke="#f00" stroke-width="2.3"/>
<path d="M326.5 516.8v-2.99M326.5 367.5v2.99M334.5 516.8v-1.49M334.5 367.5v1.49M341.5 516.8v-1.49M341.5 367.5v1.49M349.5 516.8v-1.49M349.5 367.5v1.49M356.5 516.8v-1.49M356.5 367.5v1.49M364.5 516.8v-2.99M364.5 367.5v2.99M371.5 516.8v-1.49M371.5 367.5v1.49M379.5 516.8v-1.49M379.5 367.5v1.49M386.5 516.8v-1.49M386.5 367.5v1.49M393.5 516.8v-1.49M393.5 367.5v1.49M401.5 516.8v-2.99M401.5 367.5v2.99M408.5 516.8v-1.49M408.5 367.5v1.49M416.5 516.8v-1.49M416.5 367.5v1.49M423.5 516.8v-1.49M423.5 367.5v1.49M431.5 516.8v-1.49M431.5 367.5v1.49M438.5 516.8v-2.99M438.5 367.5v2.99M446.5 516.8v-1.49M446.5 367.5v1.49M453.5 516.8v-1.49M453.5 367.5v1.49M461.5 516.8v-1.49M461.5 367.5v1.49M468.5 516.8v-1.49M468.5 367.5v1.49M322.9 513.5h2.99M472.5 513.5h-2.99M322.9 505.5h1.5M472.5 505.5h-1.5M322.9 498.5h1.5M472.5 498.5h-1.5M322.9 490.5h1.5M472.5 490.5h-1.5M322.9 483.5h1.5M472.5 483.5h-1.5M322.9 475.5h2.99M472.5 475.5h-2.99M322.9 468.5h1.5M472.5 468.5h-1.5M322.9 460.5h1.5M472.5 460.5h-1.5M322.9 453.5h1.5M472.5 453.5h-1.5M322.9 445.5h1.5M472.5 445.5h-1.5M322.9 438.5h2.99M472.5 438.5h-2.99M322.9 430.5h1.5M472.5 430.5h-1.5M322.9 423.5h1.5M472.5 423.5h-1.5M322.9 416.5h1.5M472.5 416.5h-1.5M322.9 408.5h1.5M472.5 408.5h-1.5M322.9 401.5h2.99M472.5 401.5h-2.99M322.9 393.5h1.5M472.5 393.5h-1.5M322.9 386.5h1.5M472.5 386.5h-1.5M322.9 378.5h1.5M472.5 378.5h-1.5M322.9 371.5h1.5M472.5 371.5h-1.5" stroke="#000" stroke-width="1.0" fill="none"/>
<rect x="322.9" y="367.5" width="149.6" height="149.3" stroke="#000" stroke-width="1.15" fill="none"/>
<text x="326.64" y="535" font-size="15.0" text-anchor="middle">0</text>
<text x="364.04" y="535" font-size="15.0" text-anchor="middle">5</text>
<text x="401.44" y="535" font-size="15.0" text-anchor="middle">10</text>
<text x="438.84" y="535" font-size="15.0" text-anchor="middle">15</text>
<text x="319.9" y="516.2" font-size="15.0" text-anchor="end">0</text>
<text x="319.9" y="480.55" font-size="15.0" text-anchor="end">5</text>
<text x="319.9" y="443.23" font-size="15.0" text-anchor="end">10</text>
<text x="319.9" y="405.9" font-size="15.0" text-anchor="end">15</text>
<text x="397.7" y="550.2" font-size="14.6" text-anchor="middle">Pixels</text>
</svg>
</body></html>
